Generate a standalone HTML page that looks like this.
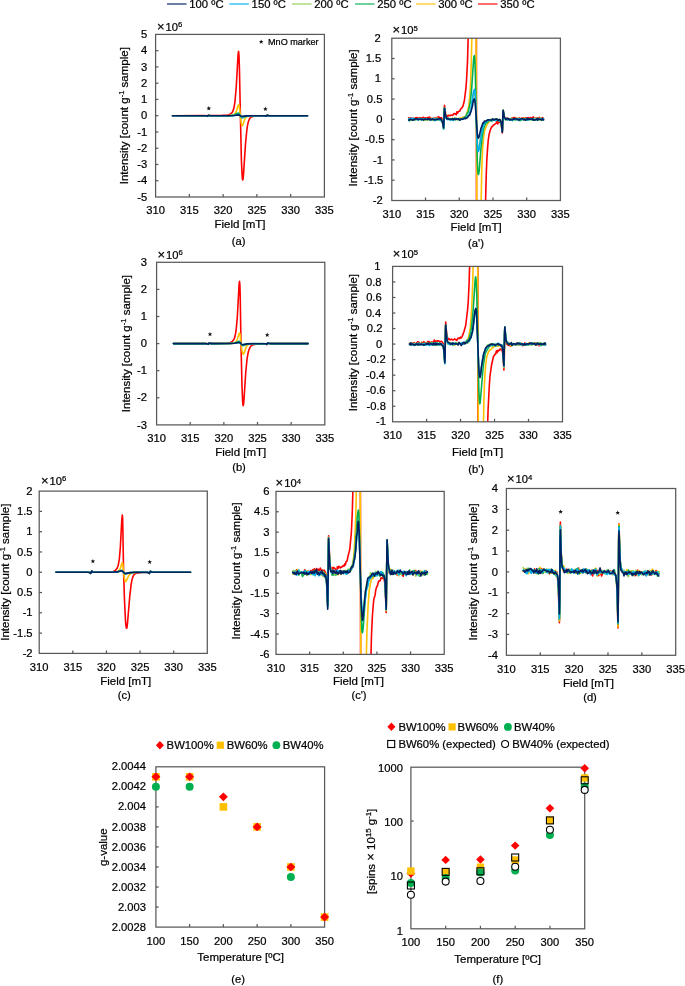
<!DOCTYPE html>
<html><head><meta charset="utf-8"><style>
html,body{margin:0;padding:0;background:#fff;}
svg{display:block;font-family:"Liberation Sans", sans-serif;will-change:transform;}
text{stroke:#000;stroke-width:0.22px;}
</style></head><body>
<svg width="685" height="986" viewBox="0 0 685 986" fill="#000">
<line x1="167" y1="4" x2="186.5" y2="4" stroke="#002060" stroke-width="1.6" stroke-opacity="0.72"/>
<text x="189.30" y="8.10" font-size="11.3" text-anchor="start" >100 ºC</text>
<line x1="229.3" y1="4" x2="248.8" y2="4" stroke="#00B0F0" stroke-width="1.6" stroke-opacity="0.72"/>
<text x="251.60" y="8.10" font-size="11.3" text-anchor="start" >150 ºC</text>
<line x1="292" y1="4" x2="311.5" y2="4" stroke="#92D050" stroke-width="1.6" stroke-opacity="0.72"/>
<text x="314.30" y="8.10" font-size="11.3" text-anchor="start" >200 ºC</text>
<line x1="355" y1="4" x2="374.5" y2="4" stroke="#00B050" stroke-width="1.6" stroke-opacity="0.72"/>
<text x="377.30" y="8.10" font-size="11.3" text-anchor="start" >250 ºC</text>
<line x1="416" y1="4" x2="435.5" y2="4" stroke="#FFC000" stroke-width="1.6" stroke-opacity="0.72"/>
<text x="438.30" y="8.10" font-size="11.3" text-anchor="start" >300 ºC</text>
<line x1="478" y1="4" x2="497.5" y2="4" stroke="#FF0000" stroke-width="1.6" stroke-opacity="0.72"/>
<text x="500.30" y="8.10" font-size="11.3" text-anchor="start" >350 ºC</text>
<clipPath id="ca"><rect x="155.6" y="34.4" width="168.79999999999998" height="162.6"/></clipPath>
<g clip-path="url(#ca)" fill="none" stroke-linejoin="round" stroke-linecap="round">
<polyline points="172.5,115.7 204.7,115.6 206.3,115.7 207.5,116.0 208.4,115.2 209.6,115.5 211.6,115.6 222.0,115.4 226.7,115.2 229.5,114.6 231.3,113.4 232.6,111.7 233.6,109.1 234.4,105.3 235.1,100.3 236.3,86.3 238.0,55.8 238.3,52.3 238.6,51.4 239.0,55.6 239.4,67.1 240.4,116.3 241.4,160.3 242.1,175.0 242.4,178.8 242.7,180.0 243.1,178.7 243.5,174.4 245.5,143.9 246.8,130.5 247.5,125.6 248.3,121.8 249.3,119.3 250.4,117.6 251.9,116.7 253.9,116.2 263.6,115.8 265.1,115.9 266.2,116.2 267.1,115.4 269.8,115.7 307.5,115.7" stroke="#FF0000" stroke-width="1.6"/>
<polyline points="172.5,115.7 204.5,115.7 206.3,115.8 207.5,116.1 208.4,115.3 209.8,115.6 212.5,115.7 227.1,115.6 231.8,115.3 233.9,114.6 235.4,113.2 236.5,110.8 238.1,105.6 238.6,104.8 239.1,105.5 239.5,107.8 241.2,122.9 241.7,124.9 242.2,125.7 242.5,125.5 242.8,124.9 244.5,120.0 245.5,118.0 246.8,116.7 248.8,116.1 253.6,115.8 262.0,115.7 264.8,115.8 266.2,116.2 267.1,115.3 268.4,115.6 270.3,115.7 307.5,115.7" stroke="#FFC000" stroke-width="1.6"/>
<polyline points="172.5,115.7 204.5,115.7 206.3,115.8 207.5,116.1 208.4,115.3 209.5,115.6 211.2,115.7 229.5,115.6 232.2,115.4 234.1,115.0 238.2,113.1 238.7,113.3 239.2,113.8 241.2,117.3 241.7,117.8 242.2,117.9 242.9,117.8 245.0,116.8 246.5,116.3 251.2,115.8 263.7,115.7 265.1,115.8 266.2,116.2 267.1,115.3 268.4,115.6 270.3,115.7 307.5,115.7" stroke="#00B050" stroke-width="1.6"/>
<polyline points="172.5,115.7 204.4,115.7 206.3,115.8 207.5,116.1 208.4,115.3 209.5,115.6 211.1,115.7 230.3,115.6 234.2,115.4 238.2,114.6 239.3,114.9 241.3,116.7 242.3,116.9 246.2,116.1 249.9,115.8 263.7,115.7 265.1,115.8 266.2,116.2 267.1,115.3 268.4,115.6 270.3,115.7 307.5,115.7" stroke="#92D050" stroke-width="1.6"/>
<polyline points="172.5,115.7 204.4,115.7 206.3,115.8 207.5,116.1 208.4,115.3 209.5,115.6 211.2,115.7 230.4,115.6 234.3,115.4 238.2,114.5 239.3,114.9 241.3,116.7 242.3,117.0 246.2,116.1 249.8,115.8 263.7,115.7 265.1,115.8 266.2,116.2 267.1,115.3 268.4,115.6 270.3,115.7 307.5,115.7" stroke="#00B0F0" stroke-width="1.6"/>
<polyline points="172.5,115.7 204.4,115.7 206.3,115.8 207.5,116.1 208.4,115.3 209.5,115.6 211.0,115.7 229.6,115.7 234.1,115.5 238.2,114.9 239.2,115.1 241.2,116.2 242.2,116.4 246.5,115.9 251.3,115.7 263.9,115.7 265.1,115.8 266.2,116.2 267.1,115.3 268.4,115.6 270.3,115.7 307.5,115.7" stroke="#002060" stroke-width="1.6"/>
</g>
<rect x="155.6" y="34.4" width="168.79999999999998" height="162.6" fill="none" stroke="#595959" stroke-width="1.25"/>
<line x1="155.6" y1="180.74" x2="158.4" y2="180.74" stroke="#595959" stroke-width="1.25"/>
<line x1="155.6" y1="164.48" x2="158.4" y2="164.48" stroke="#595959" stroke-width="1.25"/>
<line x1="155.6" y1="148.22" x2="158.4" y2="148.22" stroke="#595959" stroke-width="1.25"/>
<line x1="155.6" y1="131.96" x2="158.4" y2="131.96" stroke="#595959" stroke-width="1.25"/>
<line x1="155.6" y1="115.70" x2="158.4" y2="115.70" stroke="#595959" stroke-width="1.25"/>
<line x1="155.6" y1="99.44" x2="158.4" y2="99.44" stroke="#595959" stroke-width="1.25"/>
<line x1="155.6" y1="83.18" x2="158.4" y2="83.18" stroke="#595959" stroke-width="1.25"/>
<line x1="155.6" y1="66.92" x2="158.4" y2="66.92" stroke="#595959" stroke-width="1.25"/>
<line x1="155.6" y1="50.66" x2="158.4" y2="50.66" stroke="#595959" stroke-width="1.25"/>
<line x1="189.36" y1="197.0" x2="189.36" y2="194.0" stroke="#595959" stroke-width="1.25"/>
<line x1="223.12" y1="197.0" x2="223.12" y2="194.0" stroke="#595959" stroke-width="1.25"/>
<line x1="256.88" y1="197.0" x2="256.88" y2="194.0" stroke="#595959" stroke-width="1.25"/>
<line x1="290.64" y1="197.0" x2="290.64" y2="194.0" stroke="#595959" stroke-width="1.25"/>
<text x="147.30" y="200.60" font-size="11.2" text-anchor="end" >-5</text>
<text x="147.30" y="184.34" font-size="11.2" text-anchor="end" >-4</text>
<text x="147.30" y="168.08" font-size="11.2" text-anchor="end" >-3</text>
<text x="147.30" y="151.82" font-size="11.2" text-anchor="end" >-2</text>
<text x="147.30" y="135.56" font-size="11.2" text-anchor="end" >-1</text>
<text x="147.30" y="119.30" font-size="11.2" text-anchor="end" >0</text>
<text x="147.30" y="103.04" font-size="11.2" text-anchor="end" >1</text>
<text x="147.30" y="86.78" font-size="11.2" text-anchor="end" >2</text>
<text x="147.30" y="70.52" font-size="11.2" text-anchor="end" >3</text>
<text x="147.30" y="54.26" font-size="11.2" text-anchor="end" >4</text>
<text x="147.30" y="38.00" font-size="11.2" text-anchor="end" >5</text>
<text x="155.60" y="214.20" font-size="11.2" text-anchor="middle" >310</text>
<text x="189.36" y="214.20" font-size="11.2" text-anchor="middle" >315</text>
<text x="223.12" y="214.20" font-size="11.2" text-anchor="middle" >320</text>
<text x="256.88" y="214.20" font-size="11.2" text-anchor="middle" >325</text>
<text x="290.64" y="214.20" font-size="11.2" text-anchor="middle" >330</text>
<text x="324.40" y="214.20" font-size="11.2" text-anchor="middle" >335</text>
<text x="156.89999999999998" y="30.7" font-size="11.2"><tspan font-size="13">×</tspan><tspan dx="1.0">10</tspan><tspan font-size="7.7" dy="-3.3">6</tspan></text>
<text transform="translate(127.8,115.7) rotate(-90)" font-size="11.5" text-anchor="middle">Intensity [count g<tspan font-size="7.6" dy="-4">-1</tspan><tspan dy="4"> sample]</tspan></text>
<text x="240.00" y="228.40" font-size="11.5" text-anchor="middle" >Field [mT]</text>
<text x="238.60" y="244.90" font-size="11.2" text-anchor="middle" >(a)</text>
<polygon points="208.80,106.00 209.42,107.55 211.08,107.66 209.80,108.72 210.21,110.34 208.80,109.45 207.39,110.34 207.80,108.72 206.52,107.66 208.18,107.55" fill="#111"/>
<polygon points="265.40,106.60 266.02,108.15 267.68,108.26 266.40,109.32 266.81,110.94 265.40,110.05 263.99,110.94 264.40,109.32 263.12,108.26 264.78,108.15" fill="#111"/>
<clipPath id="ca2"><rect x="391.8" y="38.2" width="168.59999999999997" height="162.3"/></clipPath>
<g clip-path="url(#ca2)" fill="none" stroke-linejoin="round" stroke-linecap="round">
<polyline points="408.7,117.9 409.5,118.6 410.2,118.1 411.0,117.9 411.7,118.8 412.4,118.2 413.2,118.3 413.9,118.7 414.7,118.5 415.4,117.8 416.2,117.9 416.9,117.6 417.6,118.9 418.4,117.8 419.1,118.1 420.6,117.7 421.3,117.9 422.1,118.9 422.8,117.3 423.6,117.6 424.3,118.3 425.8,117.7 426.5,118.2 427.3,118.2 428.0,117.4 428.8,118.0 429.5,117.0 430.2,118.0 431.0,118.3 433.2,118.5 434.0,118.2 434.7,118.4 435.4,118.0 436.2,118.2 436.9,117.6 437.7,117.4 438.4,116.7 439.1,117.8 439.9,117.6 440.6,118.3 441.4,117.7 441.8,118.3 442.6,120.5 443.6,125.9 443.8,123.3 444.3,107.8 444.5,105.3 445.5,113.5 445.9,114.7 446.6,115.5 447.3,117.3 448.0,115.2 448.8,115.6 449.5,115.4 450.3,115.6 451.0,115.1 452.5,115.5 454.0,113.6 455.5,113.9 456.2,114.8 456.9,111.7 457.7,113.1 458.4,111.5 459.9,110.9 460.7,108.9 461.6,108.3 462.9,106.3 464.4,100.5 466.0,87.6 466.7,77.3 467.5,61.5 468.7,18.2 476.4,18.2 476.5,220.5 485.1,220.5 486.2,176.4 486.8,160.4 487.6,147.9 488.2,140.6 489.0,134.8 490.2,130.2 491.8,126.6 492.6,126.4 493.3,125.0 494.0,124.9 496.3,123.1 497.0,121.4 497.8,123.9 498.5,121.8 500.0,122.4 500.7,122.2 501.3,125.1 502.3,132.9 502.9,114.8 503.2,111.7 504.4,118.3 504.7,118.4 505.2,118.2 505.9,118.5 508.1,118.3 508.9,119.4 510.4,119.2 511.1,119.6 511.8,118.1 512.6,118.1 513.3,117.7 514.1,119.3 514.8,117.5 515.6,118.4 516.3,118.0 517.8,119.4 519.3,117.9 520.0,118.8 520.7,118.8 521.5,118.2 522.2,118.2 523.0,117.9 523.7,118.3 525.2,118.1 525.9,117.7 526.7,118.5 527.4,118.8 528.2,117.7 529.6,118.9 530.4,117.5 531.1,117.8 531.9,118.5 533.3,116.9 534.1,117.9 534.8,118.0 535.6,118.6 537.1,118.1 538.5,118.0 539.3,117.4 540.8,118.8 541.5,119.0 542.2,117.6 543.0,118.4 543.5,118.1" stroke="#FF0000" stroke-width="1.6"/>
<polyline points="408.7,118.8 409.5,119.7 410.2,119.0 411.0,118.6 411.7,120.1 412.4,118.9 413.2,119.4 413.9,118.4 414.7,119.1 415.4,119.3 416.2,119.4 416.9,119.2 417.6,119.5 418.4,118.5 419.9,119.7 421.3,118.7 422.1,119.1 425.0,120.0 425.8,119.2 427.3,118.7 428.0,120.0 428.8,118.6 431.0,118.9 431.7,119.3 432.5,120.1 433.2,119.4 434.7,119.3 435.4,120.2 436.2,119.2 436.9,119.6 437.7,118.8 438.4,119.7 439.1,119.4 439.9,119.7 441.1,119.7 441.7,120.3 442.7,122.4 443.6,129.2 443.8,126.6 444.3,111.0 444.5,108.1 445.7,116.2 446.3,118.0 447.3,119.2 448.0,118.8 448.8,118.2 449.5,119.1 450.3,118.6 451.0,118.9 452.5,118.6 453.2,119.3 454.0,119.3 455.5,118.0 456.2,118.1 456.9,119.3 457.7,119.4 459.2,118.6 459.9,117.9 460.7,119.3 461.4,117.7 462.2,117.9 462.9,117.1 463.6,117.4 464.4,116.8 465.1,117.1 465.7,116.3 467.1,112.9 468.5,107.2 469.3,101.4 470.0,93.0 470.7,81.1 471.2,65.5 472.3,18.2 476.0,18.2 476.9,220.5 480.7,220.5 481.7,172.9 482.2,157.6 482.8,146.1 483.5,137.9 484.4,131.8 485.3,128.7 486.6,125.9 487.4,123.0 488.1,123.3 488.8,122.6 489.6,121.0 490.3,120.1 491.1,121.0 491.8,119.1 492.6,119.7 493.3,119.3 495.5,119.4 497.0,118.8 497.8,119.4 499.2,119.7 500.0,120.7 500.7,120.8 500.9,121.5 502.3,130.7 502.9,113.4 503.2,110.4 504.4,116.9 504.8,117.9 505.9,118.8 506.6,120.0 507.4,118.8 508.9,119.3 509.6,119.1 510.4,119.8 511.1,119.4 511.8,119.6 513.3,118.8 514.8,119.7 515.6,118.1 516.3,118.8 517.8,118.8 518.5,119.5 519.3,119.0 520.0,119.1 520.7,119.7 521.5,119.2 522.2,119.7 524.4,118.0 525.2,120.0 526.0,119.8 526.7,120.1 527.4,119.5 528.2,119.4 528.9,119.9 530.4,119.2 531.1,120.0 531.9,119.6 533.3,120.2 534.1,118.7 534.9,119.4 535.6,120.5 536.3,119.8 537.8,119.0 539.3,118.6 540.0,119.8 540.8,119.7 541.5,119.0 543.0,120.1 543.5,120.1" stroke="#FFC000" stroke-width="1.6"/>
<polyline points="408.7,119.2 409.5,121.0 410.2,119.5 411.0,120.0 411.7,119.3 412.4,119.2 413.2,118.6 413.9,119.3 414.7,118.6 415.4,119.8 416.2,118.6 417.6,119.3 418.4,119.1 419.1,119.3 419.9,119.2 420.6,118.9 421.3,119.4 422.1,119.1 422.8,120.0 424.3,119.5 425.1,119.6 425.8,119.1 426.5,119.7 427.3,119.7 428.0,119.1 428.8,119.0 429.5,119.7 430.2,120.0 431.0,119.3 431.7,119.3 432.5,118.5 433.2,119.0 434.0,120.5 434.7,119.4 436.2,119.9 436.9,119.5 438.4,119.8 439.1,119.5 439.9,120.3 440.6,118.8 441.4,121.2 442.1,120.7 442.2,121.1 443.6,128.5 443.8,126.1 444.3,110.9 444.5,108.2 445.5,115.5 446.0,117.4 446.6,118.6 447.3,118.6 448.0,119.0 448.8,118.6 449.5,119.4 451.0,118.8 451.7,119.5 452.5,119.5 454.0,119.0 454.7,118.2 455.5,119.1 456.2,118.7 456.9,118.8 457.7,119.6 458.4,118.9 459.2,119.6 459.9,119.5 460.7,119.1 462.1,118.7 462.9,117.8 463.6,117.8 464.4,117.2 465.8,116.5 467.3,113.0 468.1,112.4 470.3,102.3 471.8,87.0 473.5,60.8 473.9,57.0 474.3,55.6 474.6,56.7 474.8,60.0 475.3,73.2 477.3,160.5 477.7,170.4 478.0,173.4 478.3,174.5 478.7,173.8 479.2,170.8 480.7,151.2 482.2,136.5 483.6,128.8 484.5,126.2 485.9,123.2 486.6,122.8 487.4,122.7 488.9,120.2 490.3,119.6 491.8,121.1 493.3,119.7 494.8,120.1 495.5,119.7 496.3,120.1 497.0,119.1 498.5,120.9 499.2,120.2 500.5,121.0 500.9,121.8 501.3,123.6 502.3,131.5 502.5,128.3 502.9,113.1 503.2,110.1 504.4,117.6 504.9,118.5 505.9,119.7 507.4,119.3 508.9,119.4 509.6,119.0 510.4,119.6 511.1,118.5 511.8,119.0 512.6,120.7 513.3,119.5 514.1,119.2 514.8,119.1 515.5,119.9 516.3,118.8 517.0,119.7 517.8,118.5 518.5,119.4 519.3,119.0 520.0,120.8 520.7,120.1 521.5,120.0 522.2,119.1 523.0,118.8 523.7,118.7 524.4,118.7 525.2,120.0 526.0,119.2 526.7,119.2 527.4,120.1 529.6,118.9 531.1,119.4 531.9,119.2 532.6,120.1 533.3,120.2 534.1,119.7 534.9,119.7 535.6,119.2 536.3,119.1 537.1,119.6 537.8,118.1 538.5,119.6 540.0,119.7 540.8,118.9 542.3,120.2 543.5,119.5" stroke="#00B050" stroke-width="1.6"/>
<polyline points="408.7,119.1 409.5,118.9 411.0,119.6 411.7,119.5 412.4,119.9 413.2,119.8 413.9,118.7 414.7,120.2 415.4,119.6 416.2,119.8 416.9,118.8 417.6,118.8 418.4,119.1 419.1,118.9 419.9,119.4 421.3,119.9 422.1,119.3 422.8,119.4 423.6,120.4 424.3,118.8 425.1,118.9 425.8,120.2 426.5,118.7 427.3,119.8 428.0,119.4 428.8,119.5 429.5,119.3 431.0,119.5 431.7,119.8 432.5,119.0 433.2,119.1 434.0,118.6 434.7,118.8 435.4,120.0 436.2,119.4 436.9,117.8 437.7,119.4 438.4,119.1 439.1,119.4 439.9,119.1 441.4,120.4 442.1,119.9 443.6,128.5 443.8,125.9 444.5,107.5 445.8,116.5 447.3,119.2 448.0,118.5 448.8,119.7 450.3,119.1 451.0,119.4 451.7,119.3 452.5,118.4 453.2,119.4 454.0,119.1 454.7,119.9 456.2,119.2 457.7,119.7 458.4,119.3 459.2,119.7 459.9,119.2 460.7,119.2 461.4,118.6 462.2,119.0 462.9,118.0 463.6,118.5 465.1,118.5 466.6,117.8 467.3,116.7 468.1,116.9 468.8,115.0 469.6,113.8 470.7,110.1 472.3,101.9 473.6,92.9 474.1,91.1 474.4,90.7 474.9,92.8 475.4,99.9 477.4,143.0 477.9,148.0 478.1,149.2 478.4,149.7 478.8,149.4 479.2,148.0 480.7,136.5 482.2,128.2 483.7,125.4 484.4,122.7 485.1,122.7 485.9,120.8 487.4,121.4 488.1,120.9 488.9,120.1 491.1,120.2 491.8,120.0 492.6,119.4 494.8,120.1 495.5,120.6 496.3,119.7 497.0,119.7 498.5,120.1 499.2,119.3 500.5,120.8 501.1,122.3 502.3,131.2 502.9,113.3 503.2,110.3 504.1,115.6 505.2,119.5 506.6,118.9 507.4,119.0 508.1,118.6 508.9,119.3 509.6,119.0 510.4,119.7 511.1,119.9 511.8,118.7 512.6,119.3 513.3,119.0 514.1,119.5 514.8,119.6 515.5,120.1 516.3,118.5 517.0,119.3 517.8,119.4 518.5,118.4 519.3,119.2 520.0,118.5 520.7,118.5 521.5,119.5 523.0,119.2 523.7,120.1 524.5,118.6 525.2,119.6 527.4,119.3 528.2,119.0 528.9,119.5 530.4,119.0 531.9,119.3 533.3,118.8 534.1,119.5 534.9,118.2 536.3,119.9 537.1,118.9 537.8,119.3 538.5,118.3 539.3,119.5 540.0,119.8 540.8,117.9 541.5,119.0 542.3,118.7 543.0,120.1 543.5,119.7" stroke="#92D050" stroke-width="1.6"/>
<polyline points="408.7,119.2 409.5,119.9 410.2,118.2 411.0,119.3 412.4,118.2 413.9,119.3 414.6,119.6 415.4,119.1 416.9,119.3 418.4,120.2 419.1,118.8 419.9,118.5 420.6,119.0 421.3,120.1 422.1,118.5 422.8,119.2 423.6,119.6 424.3,119.0 425.8,119.4 426.5,118.9 427.3,119.3 428.0,118.7 428.8,118.9 430.2,120.1 432.5,119.3 433.2,119.5 433.9,119.1 434.7,120.6 435.4,118.9 436.2,120.1 436.9,119.0 437.7,118.8 438.4,119.5 439.1,119.4 439.9,119.9 440.6,119.1 441.8,120.6 442.5,122.2 443.6,128.9 443.8,126.4 444.5,108.2 445.6,116.5 446.2,117.9 447.3,119.7 448.0,118.1 448.8,118.6 450.3,120.3 451.0,119.6 451.7,119.3 452.5,119.6 453.3,120.3 455.5,118.5 456.2,119.1 456.9,119.3 458.4,118.5 459.2,119.6 459.9,119.9 460.7,119.3 461.4,119.4 462.2,119.1 462.9,119.2 463.6,119.1 464.4,118.8 465.8,117.4 467.3,117.4 468.1,115.7 468.8,115.4 471.0,109.2 473.3,92.8 473.8,90.7 474.4,89.3 474.9,90.9 475.3,96.7 477.3,143.0 477.7,149.6 478.0,151.0 478.2,151.6 478.7,150.8 479.1,149.1 482.2,129.4 482.9,126.7 483.7,125.5 484.4,123.0 486.6,121.6 487.3,120.1 488.1,119.7 488.8,120.7 489.6,120.1 490.3,120.8 491.8,120.2 492.6,119.0 494.0,119.1 495.5,120.6 496.3,119.0 497.0,120.0 497.7,120.2 498.5,119.8 499.2,120.1 500.0,120.9 500.7,121.2 501.1,122.2 501.5,124.7 502.3,131.6 503.0,114.0 503.2,111.6 504.0,116.4 504.6,118.2 505.0,118.8 505.6,119.1 505.9,119.2 506.7,119.0 507.4,120.0 508.1,119.0 509.6,120.0 510.4,119.9 511.1,120.1 511.8,119.3 512.6,120.0 513.3,118.9 514.8,119.2 515.6,119.8 517.8,119.3 518.5,119.9 519.3,118.8 520.0,119.7 520.7,119.5 521.5,119.5 522.2,119.0 523.7,119.8 524.5,118.9 527.4,120.0 528.9,119.4 529.6,119.7 530.4,119.5 531.1,118.7 531.9,119.7 532.6,118.9 533.3,118.4 534.1,119.9 534.8,120.0 535.6,119.7 536.3,119.0 537.1,119.9 538.5,118.7 539.3,119.3 540.8,118.9 541.5,119.0 542.2,120.0 543.0,118.4 543.5,119.5" stroke="#00B0F0" stroke-width="1.6"/>
<polyline points="408.7,120.1 408.7,120.2 410.2,119.3 411.0,119.4 412.4,120.1 413.2,120.1 413.9,119.3 414.6,119.5 415.4,118.9 416.1,119.0 416.9,118.6 418.4,119.7 419.1,119.2 420.6,119.3 421.3,119.5 422.1,119.1 423.6,120.0 424.3,119.0 427.3,119.5 428.0,118.6 428.8,118.9 429.5,119.6 430.2,118.8 431.0,119.6 431.7,119.7 432.5,118.9 433.9,119.6 434.7,119.5 435.4,119.9 436.2,119.4 436.9,119.4 437.7,119.1 438.4,119.3 439.1,119.1 439.9,118.4 441.4,119.9 442.5,122.1 443.6,127.7 444.5,108.3 445.4,114.6 446.6,118.8 447.3,118.9 448.0,118.5 448.8,119.2 449.5,119.3 450.3,119.0 451.7,119.5 452.5,118.7 453.2,119.7 454.0,118.7 455.5,119.6 456.2,118.6 456.9,119.3 457.7,119.4 458.4,118.8 459.2,119.2 459.9,120.2 460.7,119.1 461.4,119.0 462.9,119.3 463.6,118.6 464.4,118.5 465.1,117.9 465.8,118.7 466.6,117.9 467.3,117.7 468.1,116.3 468.8,115.6 469.6,115.3 471.2,110.9 472.5,105.7 473.3,100.9 473.8,99.5 474.2,98.9 474.5,99.1 474.7,99.9 475.2,103.1 477.2,132.4 477.7,136.8 478.3,138.2 478.6,138.0 479.0,137.0 480.8,129.1 482.9,122.9 483.7,123.1 484.4,121.1 485.1,121.2 486.6,120.7 488.1,119.8 490.3,120.0 491.8,119.9 492.6,118.9 493.3,119.8 494.0,120.0 494.8,119.3 496.3,118.9 497.0,119.2 497.8,120.1 498.5,120.1 499.2,119.5 500.0,119.6 501.0,122.0 501.4,123.5 502.3,132.2 502.5,128.7 502.9,113.0 503.2,110.3 504.3,117.0 504.6,117.7 505.2,118.2 505.9,119.5 506.7,118.6 507.4,118.3 508.1,118.9 508.9,119.1 509.6,119.9 510.4,119.2 511.8,119.9 513.3,119.0 514.1,119.3 514.8,118.6 516.3,119.0 517.0,119.4 517.8,119.1 518.5,119.9 519.3,119.9 520.0,119.2 522.2,118.6 523.7,119.7 524.5,119.1 525.2,120.1 525.9,120.0 526.7,119.4 527.4,118.2 528.2,119.4 528.9,118.8 529.6,119.2 530.4,119.3 531.1,119.0 531.9,119.2 532.6,118.8 533.3,119.8 534.1,120.2 534.8,119.8 535.6,119.8 537.1,118.5 537.8,120.2 538.5,118.9 540.8,119.6 541.5,120.1 542.3,118.7 543.5,119.9" stroke="#002060" stroke-width="1.6"/>
</g>
<rect x="391.8" y="38.2" width="168.59999999999997" height="162.3" fill="none" stroke="#595959" stroke-width="1.25"/>
<line x1="391.8" y1="180.21" x2="394.6" y2="180.21" stroke="#595959" stroke-width="1.25"/>
<line x1="391.8" y1="159.93" x2="394.6" y2="159.93" stroke="#595959" stroke-width="1.25"/>
<line x1="391.8" y1="139.64" x2="394.6" y2="139.64" stroke="#595959" stroke-width="1.25"/>
<line x1="391.8" y1="119.35" x2="394.6" y2="119.35" stroke="#595959" stroke-width="1.25"/>
<line x1="391.8" y1="99.06" x2="394.6" y2="99.06" stroke="#595959" stroke-width="1.25"/>
<line x1="391.8" y1="78.77" x2="394.6" y2="78.77" stroke="#595959" stroke-width="1.25"/>
<line x1="391.8" y1="58.49" x2="394.6" y2="58.49" stroke="#595959" stroke-width="1.25"/>
<line x1="425.52" y1="200.5" x2="425.52" y2="197.5" stroke="#595959" stroke-width="1.25"/>
<line x1="459.24" y1="200.5" x2="459.24" y2="197.5" stroke="#595959" stroke-width="1.25"/>
<line x1="492.96" y1="200.5" x2="492.96" y2="197.5" stroke="#595959" stroke-width="1.25"/>
<line x1="526.68" y1="200.5" x2="526.68" y2="197.5" stroke="#595959" stroke-width="1.25"/>
<text x="382.80" y="204.10" font-size="11.2" text-anchor="end" >-2</text>
<text x="383.30" y="183.81" font-size="11.2" text-anchor="end" >-1.5</text>
<text x="383.00" y="163.53" font-size="11.2" text-anchor="end" >-1</text>
<text x="384.40" y="143.24" font-size="11.2" text-anchor="end" >-0.5</text>
<text x="382.60" y="122.95" font-size="11.2" text-anchor="end" >0</text>
<text x="382.40" y="102.66" font-size="11.2" text-anchor="end" >0.5</text>
<text x="380.90" y="82.37" font-size="11.2" text-anchor="end" >1</text>
<text x="381.20" y="62.09" font-size="11.2" text-anchor="end" >1.5</text>
<text x="380.70" y="41.80" font-size="11.2" text-anchor="end" >2</text>
<text x="391.80" y="217.70" font-size="11.2" text-anchor="middle" >310</text>
<text x="425.52" y="217.70" font-size="11.2" text-anchor="middle" >315</text>
<text x="459.24" y="217.70" font-size="11.2" text-anchor="middle" >320</text>
<text x="492.96" y="217.70" font-size="11.2" text-anchor="middle" >325</text>
<text x="526.68" y="217.70" font-size="11.2" text-anchor="middle" >330</text>
<text x="560.40" y="217.70" font-size="11.2" text-anchor="middle" >335</text>
<text x="392.5" y="34.2" font-size="11.2"><tspan font-size="13">×</tspan><tspan dx="1.0">10</tspan><tspan font-size="7.7" dy="-3.3">5</tspan></text>
<text transform="translate(357,117.9) rotate(-90)" font-size="11.5" text-anchor="middle">Intensity [count g<tspan font-size="7.6" dy="-4">-1</tspan><tspan dy="4"> sample]</tspan></text>
<text x="476.10" y="231.30" font-size="11.5" text-anchor="middle" >Field [mT]</text>
<text x="476.00" y="246.50" font-size="11.2" text-anchor="middle" >(a')</text>
<clipPath id="cb"><rect x="156.6" y="262.3" width="168.20000000000002" height="162.59999999999997"/></clipPath>
<g clip-path="url(#cb)" fill="none" stroke-linejoin="round" stroke-linecap="round">
<polyline points="173.4,343.6 205.3,343.5 207.1,343.6 208.3,344.1 209.2,342.8 210.4,343.3 212.2,343.4 222.7,343.4 227.8,343.1 230.6,342.5 232.5,341.3 233.8,339.6 234.8,337.1 235.6,333.4 236.3,328.4 237.3,317.2 239.0,286.1 239.3,282.4 239.5,281.3 239.9,284.9 240.2,295.6 241.0,344.3 242.0,386.0 242.6,400.6 242.9,404.4 243.1,405.7 243.5,404.6 243.9,401.0 245.8,371.8 247.1,358.7 247.9,353.8 248.8,350.2 249.9,347.6 251.1,345.9 252.1,345.2 253.2,344.7 256.5,344.1 264.7,343.8 265.8,344.0 266.8,344.5 267.7,343.1 268.9,343.5 270.5,343.6 308.0,343.6" stroke="#FF0000" stroke-width="1.6"/>
<polyline points="173.4,343.6 205.3,343.6 207.1,343.8 208.3,344.3 209.2,342.9 210.4,343.5 212.4,343.6 227.9,343.6 232.1,343.3 234.6,342.5 235.6,341.8 236.4,341.0 237.4,339.0 239.0,333.8 239.6,333.0 239.9,333.6 240.2,335.3 241.0,343.7 242.0,350.6 242.7,353.4 243.0,354.0 243.3,354.2 243.7,354.0 244.1,353.2 245.8,348.1 246.8,346.0 248.0,344.7 249.6,344.1 254.9,343.8 263.9,343.7 265.6,343.8 266.8,344.4 267.7,343.0 268.9,343.5 270.8,343.6 308.0,343.6" stroke="#FFC000" stroke-width="1.6"/>
<polyline points="173.4,343.6 205.3,343.6 207.1,343.8 208.3,344.2 209.2,342.9 210.3,343.4 211.9,343.6 230.2,343.5 234.8,343.0 238.9,341.3 239.4,341.4 239.9,341.9 241.9,345.1 242.4,345.5 242.9,345.7 243.7,345.5 246.9,344.2 250.5,343.8 264.3,343.6 265.7,343.8 266.8,344.4 267.7,343.0 269.0,343.5 270.9,343.6 308.0,343.6" stroke="#00B050" stroke-width="1.6"/>
<polyline points="173.4,343.6 205.3,343.6 207.1,343.8 208.3,344.2 209.2,342.9 210.3,343.4 211.8,343.6 230.2,343.5 234.8,343.3 238.9,342.4 239.9,342.7 241.9,344.4 242.9,344.7 247.3,343.9 252.6,343.6 264.5,343.7 265.8,343.8 266.8,344.4 267.7,343.0 269.0,343.5 270.9,343.6 308.0,343.6" stroke="#92D050" stroke-width="1.6"/>
<polyline points="173.4,343.6 205.3,343.6 207.1,343.8 208.3,344.2 209.2,342.9 210.3,343.4 211.9,343.6 230.3,343.5 234.8,343.3 238.9,342.4 239.9,342.7 241.9,344.4 242.9,344.7 247.3,343.9 252.4,343.6 264.5,343.7 265.8,343.8 266.8,344.4 267.7,343.0 269.0,343.5 270.9,343.6 308.0,343.6" stroke="#00B0F0" stroke-width="1.6"/>
<polyline points="173.4,343.6 205.3,343.6 207.1,343.8 208.3,344.2 209.2,343.0 210.3,343.4 211.9,343.6 230.4,343.5 234.9,343.3 238.9,342.3 239.9,342.7 241.9,344.5 242.9,344.8 247.3,343.9 252.1,343.7 264.5,343.7 265.8,343.8 266.8,344.4 267.7,343.0 269.0,343.5 270.9,343.6 308.0,343.6" stroke="#002060" stroke-width="1.6"/>
</g>
<rect x="156.6" y="262.3" width="168.20000000000002" height="162.59999999999997" fill="none" stroke="#595959" stroke-width="1.25"/>
<line x1="156.6" y1="397.80" x2="159.4" y2="397.80" stroke="#595959" stroke-width="1.25"/>
<line x1="156.6" y1="370.70" x2="159.4" y2="370.70" stroke="#595959" stroke-width="1.25"/>
<line x1="156.6" y1="343.60" x2="159.4" y2="343.60" stroke="#595959" stroke-width="1.25"/>
<line x1="156.6" y1="316.50" x2="159.4" y2="316.50" stroke="#595959" stroke-width="1.25"/>
<line x1="156.6" y1="289.40" x2="159.4" y2="289.40" stroke="#595959" stroke-width="1.25"/>
<line x1="190.24" y1="424.9" x2="190.24" y2="421.9" stroke="#595959" stroke-width="1.25"/>
<line x1="223.88" y1="424.9" x2="223.88" y2="421.9" stroke="#595959" stroke-width="1.25"/>
<line x1="257.52" y1="424.9" x2="257.52" y2="421.9" stroke="#595959" stroke-width="1.25"/>
<line x1="291.16" y1="424.9" x2="291.16" y2="421.9" stroke="#595959" stroke-width="1.25"/>
<text x="147.00" y="428.50" font-size="11.2" text-anchor="end" >-3</text>
<text x="147.00" y="401.40" font-size="11.2" text-anchor="end" >-2</text>
<text x="147.00" y="374.30" font-size="11.2" text-anchor="end" >-1</text>
<text x="147.00" y="347.20" font-size="11.2" text-anchor="end" >0</text>
<text x="147.00" y="320.10" font-size="11.2" text-anchor="end" >1</text>
<text x="147.00" y="293.00" font-size="11.2" text-anchor="end" >2</text>
<text x="147.00" y="265.90" font-size="11.2" text-anchor="end" >3</text>
<text x="156.60" y="442.10" font-size="11.2" text-anchor="middle" >310</text>
<text x="190.24" y="442.10" font-size="11.2" text-anchor="middle" >315</text>
<text x="223.88" y="442.10" font-size="11.2" text-anchor="middle" >320</text>
<text x="257.52" y="442.10" font-size="11.2" text-anchor="middle" >325</text>
<text x="291.16" y="442.10" font-size="11.2" text-anchor="middle" >330</text>
<text x="324.80" y="442.10" font-size="11.2" text-anchor="middle" >335</text>
<text x="157.5" y="258.8" font-size="11.2"><tspan font-size="13">×</tspan><tspan dx="1.0">10</tspan><tspan font-size="7.7" dy="-3.3">6</tspan></text>
<text transform="translate(129.6,343.6) rotate(-90)" font-size="11.5" text-anchor="middle">Intensity [count g<tspan font-size="7.6" dy="-4">-1</tspan><tspan dy="4"> sample]</tspan></text>
<text x="240.70" y="455.70" font-size="11.5" text-anchor="middle" >Field [mT]</text>
<text x="239.00" y="471.10" font-size="11.2" text-anchor="middle" >(b)</text>
<polygon points="210.00,331.90 210.62,333.45 212.28,333.56 211.00,334.62 211.41,336.24 210.00,335.35 208.59,336.24 209.00,334.62 207.72,333.56 209.38,333.45" fill="#111"/>
<polygon points="267.20,332.60 267.82,334.15 269.48,334.26 268.20,335.32 268.61,336.94 267.20,336.05 265.79,336.94 266.20,335.32 264.92,334.26 266.58,334.15" fill="#111"/>
<clipPath id="cb2"><rect x="392.6" y="266.4" width="169.89999999999998" height="155.40000000000003"/></clipPath>
<g clip-path="url(#cb2)" fill="none" stroke-linejoin="round" stroke-linecap="round">
<polyline points="409.6,343.7 410.4,343.4 411.1,342.9 411.9,343.8 412.6,343.7 413.4,343.0 414.1,342.7 414.9,343.3 416.4,343.7 417.1,342.3 417.9,341.7 418.6,341.8 419.4,343.1 420.9,344.2 421.6,342.3 422.4,343.4 423.9,341.7 424.6,343.5 425.4,342.8 426.9,343.0 427.6,341.5 429.1,341.5 429.8,342.5 430.6,342.7 431.3,342.0 432.1,342.6 432.8,342.0 433.6,341.7 434.3,340.0 435.1,341.6 435.8,341.1 436.6,341.6 437.3,340.6 438.1,341.0 438.8,340.9 439.5,341.7 440.3,342.0 441.0,341.2 441.7,341.4 443.0,343.3 443.6,345.6 444.8,359.3 445.0,354.4 445.5,327.8 445.7,322.0 446.7,334.4 447.5,337.7 448.2,339.2 448.5,339.5 449.3,338.8 450.0,339.9 450.8,339.8 451.5,339.1 453.0,340.0 453.8,339.8 454.5,338.9 456.0,339.8 456.8,340.4 458.2,338.0 459.7,338.6 460.5,337.1 461.2,337.9 461.3,337.8 462.1,336.6 464.0,331.5 465.7,325.5 467.6,309.6 468.3,300.8 469.1,283.0 470.2,246.4 477.8,246.4 478.0,441.8 487.1,441.8 488.1,409.3 489.3,385.7 490.0,376.0 491.6,364.7 493.4,356.8 494.1,355.8 494.9,354.2 495.6,354.1 496.4,350.9 497.1,352.7 497.9,350.2 498.6,350.8 499.4,350.1 500.1,348.9 500.8,349.8 501.5,349.6 501.8,349.8 502.2,350.7 502.6,352.2 503.1,356.7 503.9,369.9 504.2,363.9 504.6,335.2 504.9,329.5 505.7,339.0 506.1,342.4 506.8,344.2 507.6,344.5 508.3,345.5 509.1,344.8 509.8,345.6 510.6,345.9 511.3,344.3 512.8,344.6 513.6,343.8 514.3,344.3 515.1,344.3 515.8,345.1 516.6,343.1 518.1,344.8 519.5,344.6 520.3,344.0 521.0,344.0 521.8,343.4 522.5,345.8 523.3,344.5 524.0,344.3 524.8,342.8 525.5,344.3 526.3,344.7 527.0,343.7 527.8,343.7 528.5,344.2 529.3,342.8 530.0,342.9 530.8,343.8 532.2,343.5 533.0,344.1 533.7,343.8 534.5,344.1 535.2,344.0 536.0,343.2 536.7,345.1 537.5,343.8 538.2,343.9 539.0,345.8 539.7,343.8 540.5,344.8 541.2,345.1 542.0,344.0 542.7,344.5 543.5,343.5 544.2,344.5 545.5,344.9" stroke="#FF0000" stroke-width="1.6"/>
<polyline points="409.6,343.3 409.7,343.2 410.4,343.7 411.9,343.7 412.7,344.1 413.4,345.2 414.2,344.3 414.9,344.0 415.7,344.0 416.4,344.8 417.1,344.8 417.9,343.4 418.6,344.0 419.4,344.9 420.1,343.6 420.9,344.5 421.6,344.0 422.4,343.9 423.1,344.1 423.9,343.6 424.6,344.1 425.4,344.1 426.1,343.2 426.9,343.9 427.6,344.2 428.3,343.4 429.1,343.6 429.8,344.2 431.3,342.7 432.1,344.3 432.8,342.8 433.6,344.8 434.3,343.9 435.1,344.6 435.8,343.4 436.6,344.8 437.3,344.1 438.1,344.8 438.8,343.4 439.5,344.3 440.3,343.6 441.1,345.4 441.8,345.4 442.6,345.1 443.4,347.9 444.0,352.0 444.8,362.8 445.0,359.2 445.5,331.7 445.7,325.5 446.9,339.0 447.4,341.2 448.5,343.9 449.3,343.1 450.0,343.6 450.8,344.5 451.5,343.5 452.3,343.1 453.0,344.3 453.8,345.0 454.5,345.1 456.0,344.1 456.8,343.4 457.5,344.5 458.2,342.7 459.7,344.3 460.5,344.3 461.2,343.6 462.7,343.6 463.5,343.1 464.2,343.5 465.0,343.5 465.7,343.4 466.5,343.0 468.4,337.4 469.4,333.1 470.2,327.9 471.1,317.7 471.8,305.7 472.6,286.6 473.7,246.6 473.7,246.4 477.6,246.4 478.4,441.8 483.1,441.8 483.8,405.5 484.5,382.4 485.5,366.5 486.7,357.2 488.2,352.5 489.6,350.1 490.4,349.9 491.1,349.3 491.9,347.8 493.4,347.5 494.1,346.2 494.9,345.6 495.6,346.0 496.4,345.5 497.9,346.4 498.6,345.7 500.1,345.5 500.8,346.2 502.1,346.9 502.6,348.8 503.1,353.2 503.9,367.7 504.2,361.6 504.6,332.7 504.8,327.7 505.6,338.0 506.3,341.8 506.8,342.6 507.6,342.8 508.3,343.5 509.1,343.2 509.8,344.9 510.6,344.7 511.3,346.2 512.1,344.2 512.8,344.3 513.6,343.6 514.3,343.8 515.1,344.3 515.8,344.3 516.6,344.8 517.3,344.0 518.1,344.3 518.8,343.9 519.5,343.9 520.3,344.1 521.0,342.9 521.8,344.3 522.5,343.9 523.3,344.0 524.0,345.2 524.8,344.4 525.5,344.4 526.3,344.8 527.0,344.0 527.8,344.3 528.5,344.3 529.3,342.7 530.0,344.6 530.7,343.2 531.5,344.9 532.3,344.2 533.0,343.0 533.8,343.9 535.2,343.8 536.0,343.1 536.8,343.9 537.5,343.8 538.3,345.0 539.0,344.8 539.7,342.6 540.5,344.6 541.2,344.5 542.0,343.5 542.7,343.5 543.5,344.3 544.2,343.2 545.0,343.2 545.5,344.5" stroke="#FFC000" stroke-width="1.6"/>
<polyline points="409.6,344.6 410.4,345.0 411.2,343.5 411.9,344.0 413.4,344.6 414.9,343.9 415.6,344.6 416.4,344.0 417.1,344.7 417.9,344.9 419.4,343.2 420.1,344.7 420.9,343.9 422.4,344.3 424.6,343.3 425.4,344.5 426.1,344.0 426.9,344.4 427.6,344.4 428.3,343.8 429.1,344.5 429.8,344.7 431.3,342.6 432.8,345.2 434.3,344.0 435.1,345.1 435.8,343.0 436.6,344.9 437.3,342.8 438.1,344.1 438.8,344.6 439.6,342.8 440.3,343.9 441.1,344.2 441.8,345.3 442.6,345.3 443.3,347.1 444.0,351.4 444.8,363.0 445.7,324.6 446.7,338.0 447.2,341.0 447.8,342.7 450.0,343.2 450.8,344.4 451.5,343.5 452.3,343.9 453.0,343.2 453.8,344.6 454.5,343.5 455.3,342.8 456.8,343.5 457.5,343.3 458.2,343.7 459.0,343.6 459.7,344.0 461.2,343.7 462.0,344.3 462.7,343.3 463.5,343.7 465.0,343.2 465.7,342.6 466.5,340.4 467.2,341.9 468.0,340.0 468.7,339.5 470.9,331.4 471.5,327.5 473.0,312.5 475.0,281.9 475.4,277.7 475.6,276.9 475.9,278.1 476.2,282.0 476.8,295.1 478.8,388.5 479.3,399.6 479.6,402.7 479.8,403.8 480.2,402.8 480.5,399.3 483.0,368.8 483.7,363.0 485.2,353.7 486.5,350.9 488.9,347.1 489.6,345.4 490.4,345.7 491.1,345.6 491.9,344.8 492.6,345.9 493.4,344.7 494.1,344.5 494.9,345.0 495.6,346.3 496.4,344.8 497.1,345.4 497.9,344.5 498.6,344.3 500.1,345.0 500.8,345.1 501.6,344.8 502.5,348.4 502.9,350.9 503.9,365.7 504.6,331.5 504.9,326.7 506.1,340.5 507.6,343.8 509.1,343.6 509.8,344.0 510.6,343.4 511.3,344.7 512.1,344.5 513.6,343.5 514.3,344.9 515.1,343.9 515.8,344.6 516.6,343.6 517.3,344.4 518.1,344.6 518.8,344.7 519.5,344.1 521.0,344.7 522.5,344.0 523.3,344.4 525.5,344.7 527.0,343.6 527.8,345.1 528.5,344.6 530.0,344.4 530.7,344.0 531.5,344.6 532.2,343.9 533.0,343.9 533.8,343.4 534.5,343.7 535.3,343.6 536.8,344.5 537.5,343.8 538.2,342.8 539.0,344.2 539.7,344.1 540.5,342.9 541.2,345.7 542.0,344.0 543.5,344.7 544.2,343.3 545.0,343.6 545.5,344.4" stroke="#00B050" stroke-width="1.6"/>
<polyline points="409.6,344.4 410.4,344.3 411.1,344.6 411.9,343.6 412.7,343.9 413.4,344.9 414.9,343.3 415.6,344.3 416.4,343.5 417.1,344.2 417.9,344.0 418.6,344.1 419.4,343.7 420.1,343.7 420.9,344.4 421.6,343.1 423.1,344.8 423.9,343.6 424.6,345.0 425.4,344.5 426.9,343.9 427.6,342.9 429.1,344.7 429.8,344.8 430.6,343.4 431.3,344.1 432.8,344.7 433.6,343.5 434.3,344.7 435.8,344.9 437.3,344.1 438.1,344.9 438.8,344.2 439.6,345.1 440.3,344.2 441.1,343.7 441.8,345.1 442.8,345.3 443.3,346.1 443.9,350.9 444.8,363.0 445.0,358.0 445.5,331.2 445.7,325.4 446.6,337.9 447.8,344.1 448.5,342.2 449.3,342.3 450.0,343.1 450.8,343.5 451.5,342.8 453.0,345.7 453.8,344.0 456.0,344.2 456.8,343.5 457.5,344.5 458.2,343.8 459.0,344.2 460.5,344.1 461.2,343.4 462.0,343.1 462.7,343.8 463.5,344.2 465.0,342.4 466.5,342.4 468.0,343.1 469.5,341.2 472.1,332.8 473.9,321.6 474.7,314.0 475.2,311.3 475.8,310.2 476.2,311.7 476.7,318.9 478.8,367.6 479.3,373.7 479.6,375.2 479.9,375.8 480.2,375.1 480.7,372.9 482.9,356.5 484.1,352.5 487.4,345.2 488.2,344.6 488.9,345.4 489.6,345.1 490.4,343.7 491.1,345.3 491.9,344.2 492.6,345.4 493.4,344.2 494.1,344.9 494.9,345.3 495.6,343.9 497.1,345.4 498.6,343.9 500.1,344.8 501.0,344.7 501.6,345.0 502.5,348.3 502.9,351.0 503.9,366.8 504.2,361.0 504.6,331.4 504.9,326.8 505.8,337.4 506.5,341.2 506.9,342.1 507.6,342.1 508.3,343.3 509.1,343.0 509.8,343.4 510.6,344.4 511.3,343.6 512.1,344.3 512.8,343.5 513.6,344.7 514.3,344.5 515.1,343.5 515.8,344.2 516.6,344.1 517.3,343.7 518.1,343.7 518.8,345.1 519.5,342.6 520.3,344.0 521.0,344.2 521.8,343.8 522.5,345.0 523.3,343.7 524.0,344.0 524.8,343.8 525.5,344.9 527.0,344.1 527.8,344.2 528.5,345.1 529.3,344.5 530.0,344.3 530.7,343.8 532.2,345.0 533.0,344.0 533.7,343.5 534.5,344.4 535.2,344.6 536.0,343.5 537.5,343.3 538.2,344.0 539.0,343.6 539.7,344.3 541.2,344.1 542.0,345.0 542.7,344.2 543.5,344.1 544.2,343.1 545.0,344.8 545.5,343.5" stroke="#92D050" stroke-width="1.6"/>
<polyline points="409.6,343.4 410.4,345.0 411.9,343.6 412.6,343.5 413.4,345.4 414.2,344.5 414.9,344.2 415.7,344.3 416.4,344.7 417.1,343.3 417.9,344.7 418.6,343.4 419.4,344.4 420.1,344.9 420.9,344.2 421.6,344.9 422.4,344.0 423.1,344.8 424.6,343.4 426.1,345.1 426.9,343.7 427.6,344.2 428.3,345.1 429.1,344.0 429.8,345.6 430.6,344.4 431.3,344.6 432.1,343.3 432.8,343.3 433.6,345.0 434.3,343.4 435.8,343.8 436.6,343.1 437.3,344.8 438.1,344.6 438.8,344.9 439.5,344.0 440.3,344.9 441.1,343.7 441.8,344.4 442.5,344.3 443.2,346.7 443.8,350.3 444.8,363.6 445.0,359.9 445.5,332.2 445.7,326.0 446.6,336.8 447.1,340.8 447.8,343.3 448.5,343.3 449.3,344.6 450.0,344.3 450.8,344.6 451.5,343.4 452.3,342.9 453.0,344.8 453.8,343.9 455.3,343.6 456.0,344.1 456.8,343.8 458.2,343.8 459.0,344.0 459.7,343.8 460.5,344.4 461.2,343.2 462.0,342.8 462.7,343.3 463.5,344.4 464.2,342.5 465.7,342.8 466.5,342.4 467.2,342.6 468.0,341.2 468.7,340.6 469.4,341.3 470.2,338.2 470.9,338.3 471.5,336.3 472.5,330.8 473.2,327.8 474.7,313.1 475.2,310.4 475.7,309.3 476.0,309.7 476.2,311.2 476.7,316.9 478.7,366.7 479.2,373.6 479.5,375.3 479.7,376.0 480.2,375.7 480.7,374.4 482.2,361.6 483.7,353.5 484.4,352.6 485.2,349.2 485.9,348.9 486.7,347.6 487.4,346.9 488.2,345.5 488.9,345.6 489.6,344.7 490.4,345.0 491.1,344.6 491.9,344.5 492.6,345.5 493.4,344.5 494.1,344.2 494.9,345.5 495.6,344.4 496.4,344.9 497.9,343.4 498.6,343.4 499.4,344.6 500.1,345.0 501.1,344.8 501.6,345.0 502.3,347.3 502.8,350.6 503.9,366.8 504.6,333.2 504.9,327.3 505.7,336.9 506.2,340.3 506.9,342.0 508.3,343.2 509.1,344.2 509.8,344.3 510.6,343.9 511.3,344.2 512.1,343.9 513.6,344.5 514.3,344.0 515.1,343.8 515.8,344.6 516.6,344.2 517.3,344.2 518.1,342.8 518.8,343.7 519.5,343.7 520.3,343.0 521.0,344.6 521.8,343.9 522.5,344.7 523.3,343.7 524.0,344.2 524.8,344.2 526.3,344.7 527.0,343.9 527.8,344.5 529.3,344.4 530.0,343.4 530.7,344.2 531.5,342.8 532.3,344.0 533.8,343.9 535.3,344.1 536.7,343.5 537.5,344.6 538.2,344.8 539.0,344.0 540.5,344.7 541.2,344.7 542.0,343.4 542.7,344.5 544.2,343.9 545.0,345.1 545.5,344.6" stroke="#00B0F0" stroke-width="1.6"/>
<polyline points="409.6,344.3 410.4,343.2 411.2,345.0 411.9,343.6 413.4,344.8 414.2,344.6 414.9,345.3 415.7,344.2 417.1,343.9 417.9,344.9 418.6,344.0 420.1,344.8 420.9,344.0 422.4,344.6 423.1,344.6 423.9,345.3 424.6,344.9 426.1,343.8 426.9,344.1 427.6,344.2 428.3,342.9 429.1,344.4 430.6,343.6 431.3,343.9 432.1,344.8 433.6,343.0 434.3,344.7 435.1,343.1 435.8,344.8 436.6,343.7 437.3,344.5 438.1,343.7 438.8,343.9 439.5,344.4 440.3,343.8 441.0,343.7 442.5,345.9 442.9,345.7 443.3,345.9 443.5,346.8 444.0,351.1 444.8,362.7 445.0,358.9 445.5,331.2 445.7,325.0 446.9,339.1 447.4,341.2 448.2,342.6 448.6,342.8 450.0,343.1 450.8,344.4 451.5,343.5 452.3,344.3 453.0,342.9 453.8,343.7 454.5,343.8 455.3,344.1 456.0,343.7 456.8,343.9 457.5,344.3 458.2,345.0 459.0,342.4 459.7,343.2 460.5,343.5 461.2,345.6 462.0,344.4 462.7,343.7 463.5,342.2 464.2,342.3 465.0,343.8 465.7,342.6 466.5,342.7 466.9,342.5 468.0,341.2 468.8,340.6 471.0,337.0 471.7,333.9 472.5,331.7 474.7,313.0 475.2,310.1 475.8,308.4 476.1,308.9 476.2,310.1 476.8,317.9 478.7,367.8 479.3,375.2 479.6,376.9 479.9,377.5 480.2,377.0 480.6,374.9 481.4,367.5 483.5,355.1 484.0,352.9 485.9,347.6 486.7,347.1 487.4,346.2 488.2,345.9 488.9,345.3 489.6,345.7 490.4,344.5 491.1,344.3 491.9,343.9 492.6,344.6 493.4,344.3 494.9,345.0 495.6,345.1 497.9,343.6 498.6,344.8 499.4,344.3 500.1,344.5 500.9,346.0 501.6,345.4 502.3,347.2 502.7,349.6 503.9,365.7 504.6,332.0 504.8,327.0 505.6,336.8 506.1,340.6 506.5,341.8 507.2,342.8 509.1,344.7 509.8,343.9 510.6,343.8 511.3,342.7 512.1,345.4 512.8,344.1 514.3,343.8 515.8,344.2 516.6,344.1 517.3,343.2 518.1,343.9 518.8,343.2 519.5,343.6 520.3,344.3 522.5,343.7 523.3,345.0 524.0,345.0 524.8,343.8 525.5,344.7 527.0,343.8 528.5,344.3 529.3,343.3 530.0,343.6 530.7,343.0 531.5,343.9 532.3,343.3 533.0,344.0 533.7,343.8 534.5,343.1 535.3,345.0 536.0,344.2 536.8,343.8 537.5,343.0 538.3,344.3 539.0,344.1 540.5,344.1 541.2,343.6 542.0,344.2 542.7,344.5 543.5,343.7 544.2,344.3 545.0,342.9 545.5,343.9" stroke="#002060" stroke-width="1.6"/>
</g>
<rect x="392.6" y="266.4" width="169.89999999999998" height="155.40000000000003" fill="none" stroke="#595959" stroke-width="1.25"/>
<line x1="392.6" y1="406.26" x2="395.40000000000003" y2="406.26" stroke="#595959" stroke-width="1.25"/>
<line x1="392.6" y1="390.72" x2="395.40000000000003" y2="390.72" stroke="#595959" stroke-width="1.25"/>
<line x1="392.6" y1="375.18" x2="395.40000000000003" y2="375.18" stroke="#595959" stroke-width="1.25"/>
<line x1="392.6" y1="359.64" x2="395.40000000000003" y2="359.64" stroke="#595959" stroke-width="1.25"/>
<line x1="392.6" y1="344.10" x2="395.40000000000003" y2="344.10" stroke="#595959" stroke-width="1.25"/>
<line x1="392.6" y1="328.56" x2="395.40000000000003" y2="328.56" stroke="#595959" stroke-width="1.25"/>
<line x1="392.6" y1="313.02" x2="395.40000000000003" y2="313.02" stroke="#595959" stroke-width="1.25"/>
<line x1="392.6" y1="297.48" x2="395.40000000000003" y2="297.48" stroke="#595959" stroke-width="1.25"/>
<line x1="392.6" y1="281.94" x2="395.40000000000003" y2="281.94" stroke="#595959" stroke-width="1.25"/>
<line x1="426.58" y1="421.8" x2="426.58" y2="418.8" stroke="#595959" stroke-width="1.25"/>
<line x1="460.56" y1="421.8" x2="460.56" y2="418.8" stroke="#595959" stroke-width="1.25"/>
<line x1="494.54" y1="421.8" x2="494.54" y2="418.8" stroke="#595959" stroke-width="1.25"/>
<line x1="528.52" y1="421.8" x2="528.52" y2="418.8" stroke="#595959" stroke-width="1.25"/>
<text x="386.00" y="425.40" font-size="11.2" text-anchor="end" >-1</text>
<text x="385.90" y="409.86" font-size="11.2" text-anchor="end" >-0.8</text>
<text x="385.60" y="394.32" font-size="11.2" text-anchor="end" >-0.6</text>
<text x="385.10" y="378.78" font-size="11.2" text-anchor="end" >-0.4</text>
<text x="385.70" y="363.24" font-size="11.2" text-anchor="end" >-0.2</text>
<text x="382.20" y="347.70" font-size="11.2" text-anchor="end" >0</text>
<text x="382.40" y="332.16" font-size="11.2" text-anchor="end" >0.2</text>
<text x="381.20" y="316.62" font-size="11.2" text-anchor="end" >0.4</text>
<text x="381.70" y="301.08" font-size="11.2" text-anchor="end" >0.6</text>
<text x="381.50" y="285.54" font-size="11.2" text-anchor="end" >0.8</text>
<text x="380.50" y="270.00" font-size="11.2" text-anchor="end" >1</text>
<text x="392.60" y="439.00" font-size="11.2" text-anchor="middle" >310</text>
<text x="426.58" y="439.00" font-size="11.2" text-anchor="middle" >315</text>
<text x="460.56" y="439.00" font-size="11.2" text-anchor="middle" >320</text>
<text x="494.54" y="439.00" font-size="11.2" text-anchor="middle" >325</text>
<text x="528.52" y="439.00" font-size="11.2" text-anchor="middle" >330</text>
<text x="562.50" y="439.00" font-size="11.2" text-anchor="middle" >335</text>
<text x="392.7" y="258.4" font-size="11.2"><tspan font-size="13">×</tspan><tspan dx="1.0">10</tspan><tspan font-size="7.7" dy="-3.3">5</tspan></text>
<text transform="translate(357,342.6) rotate(-90)" font-size="11.5" text-anchor="middle">Intensity [count g<tspan font-size="7.6" dy="-4">-1</tspan><tspan dy="4"> sample]</tspan></text>
<text x="477.55" y="456.20" font-size="11.5" text-anchor="middle" >Field [mT]</text>
<text x="476.20" y="472.80" font-size="11.2" text-anchor="middle" >(b')</text>
<clipPath id="cc"><rect x="39.2" y="491.1" width="168.10000000000002" height="162.29999999999995"/></clipPath>
<g clip-path="url(#cc)" fill="none" stroke-linejoin="round" stroke-linecap="round">
<polyline points="56.0,572.2 87.9,572.2 89.7,572.4 90.8,573.2 91.8,571.1 92.9,571.9 94.2,572.1 108.1,572.0 112.9,571.5 114.5,571.0 115.6,570.2 116.9,568.6 117.9,566.3 118.7,563.0 119.4,558.4 120.3,547.7 121.8,519.6 122.3,515.0 122.6,517.7 122.8,525.2 123.6,572.7 124.5,600.1 125.5,621.1 126.0,626.4 126.5,628.3 126.7,628.2 127.0,627.3 127.5,623.2 129.8,595.8 131.1,584.6 131.8,580.6 132.6,577.7 133.4,575.6 134.5,574.2 135.6,573.6 137.0,573.1 141.8,572.5 147.5,572.5 148.4,572.7 149.4,573.4 150.3,571.3 151.5,572.1 153.3,572.3 190.5,572.3" stroke="#FF0000" stroke-width="1.6"/>
<polyline points="56.0,572.3 87.8,572.3 89.7,572.5 90.8,573.3 91.8,571.2 92.9,572.0 94.7,572.2 111.0,572.2 115.7,572.0 118.0,571.3 118.8,570.7 119.5,569.9 120.4,568.0 121.9,563.3 122.3,562.6 122.6,563.1 122.9,564.7 123.6,572.4 124.4,578.1 125.0,580.7 125.3,581.3 125.6,581.6 126.0,581.4 126.3,580.9 128.3,576.5 129.6,574.5 131.3,573.2 133.7,572.6 138.0,572.3 146.8,572.3 148.2,572.5 149.3,573.3 150.3,571.3 151.5,572.0 153.4,572.2 190.5,572.2" stroke="#FFC000" stroke-width="1.6"/>
<polyline points="56.0,572.2 87.8,572.3 89.7,572.5 90.8,573.3 91.8,571.2 92.9,572.0 94.4,572.2 112.9,572.2 117.4,571.7 121.4,570.3 122.0,570.5 122.5,570.9 124.5,573.6 125.5,574.0 129.7,572.7 134.3,572.3 147.0,572.3 148.3,572.6 149.4,573.3 150.3,571.3 151.5,572.0 153.4,572.2 190.5,572.3" stroke="#00B050" stroke-width="1.6"/>
<polyline points="56.0,572.3 87.8,572.3 89.7,572.5 90.8,573.3 91.8,571.2 92.9,572.0 94.3,572.2 111.6,572.2 117.1,571.9 121.4,570.8 122.4,571.1 124.3,573.1 125.5,573.6 130.1,572.5 136.3,572.3 147.2,572.3 148.3,572.6 149.3,573.3 150.3,571.3 151.5,572.0 153.4,572.2 190.5,572.3" stroke="#92D050" stroke-width="1.6"/>
<polyline points="56.0,572.2 87.8,572.3 89.7,572.5 90.8,573.3 91.8,571.2 92.9,572.0 94.3,572.2 111.7,572.2 117.1,571.9 121.4,570.8 122.4,571.1 123.5,572.3 124.5,573.0 125.9,573.5 131.9,572.5 140.3,572.3 147.4,572.4 148.4,572.6 149.3,573.4 150.3,571.3 151.5,572.0 153.4,572.2 190.5,572.3" stroke="#00B0F0" stroke-width="1.6"/>
<polyline points="56.0,572.2 87.8,572.3 89.7,572.5 90.8,573.3 91.8,571.2 92.9,572.0 94.3,572.2 111.9,572.2 117.2,571.9 121.4,570.7 122.5,571.2 124.5,573.3 125.5,573.6 130.1,572.6 135.9,572.3 147.1,572.3 148.3,572.6 149.3,573.3 150.3,571.3 151.5,572.0 153.4,572.2 190.5,572.3" stroke="#002060" stroke-width="1.6"/>
</g>
<rect x="39.2" y="491.1" width="168.10000000000002" height="162.29999999999995" fill="none" stroke="#595959" stroke-width="1.25"/>
<line x1="39.2" y1="633.11" x2="42.0" y2="633.11" stroke="#595959" stroke-width="1.25"/>
<line x1="39.2" y1="612.83" x2="42.0" y2="612.83" stroke="#595959" stroke-width="1.25"/>
<line x1="39.2" y1="592.54" x2="42.0" y2="592.54" stroke="#595959" stroke-width="1.25"/>
<line x1="39.2" y1="572.25" x2="42.0" y2="572.25" stroke="#595959" stroke-width="1.25"/>
<line x1="39.2" y1="551.96" x2="42.0" y2="551.96" stroke="#595959" stroke-width="1.25"/>
<line x1="39.2" y1="531.67" x2="42.0" y2="531.67" stroke="#595959" stroke-width="1.25"/>
<line x1="39.2" y1="511.39" x2="42.0" y2="511.39" stroke="#595959" stroke-width="1.25"/>
<line x1="72.82" y1="653.4" x2="72.82" y2="650.4" stroke="#595959" stroke-width="1.25"/>
<line x1="106.44" y1="653.4" x2="106.44" y2="650.4" stroke="#595959" stroke-width="1.25"/>
<line x1="140.06" y1="653.4" x2="140.06" y2="650.4" stroke="#595959" stroke-width="1.25"/>
<line x1="173.68" y1="653.4" x2="173.68" y2="650.4" stroke="#595959" stroke-width="1.25"/>
<text x="32.60" y="657.00" font-size="11.2" text-anchor="end" >-2</text>
<text x="32.60" y="636.71" font-size="11.2" text-anchor="end" >-1.5</text>
<text x="32.60" y="616.43" font-size="11.2" text-anchor="end" >-1</text>
<text x="32.60" y="596.14" font-size="11.2" text-anchor="end" >0.5</text>
<text x="32.60" y="575.85" font-size="11.2" text-anchor="end" >0</text>
<text x="32.60" y="555.56" font-size="11.2" text-anchor="end" >0.5</text>
<text x="32.60" y="535.27" font-size="11.2" text-anchor="end" >1</text>
<text x="32.60" y="514.99" font-size="11.2" text-anchor="end" >1.5</text>
<text x="32.60" y="494.70" font-size="11.2" text-anchor="end" >2</text>
<text x="39.20" y="670.60" font-size="11.2" text-anchor="middle" >310</text>
<text x="72.82" y="670.60" font-size="11.2" text-anchor="middle" >315</text>
<text x="106.44" y="670.60" font-size="11.2" text-anchor="middle" >320</text>
<text x="140.06" y="670.60" font-size="11.2" text-anchor="middle" >325</text>
<text x="173.68" y="670.60" font-size="11.2" text-anchor="middle" >330</text>
<text x="207.30" y="670.60" font-size="11.2" text-anchor="middle" >335</text>
<text x="41.0" y="484.7" font-size="11.2"><tspan font-size="13">×</tspan><tspan dx="1.0">10</tspan><tspan font-size="7.7" dy="-3.3">6</tspan></text>
<text transform="translate(9.2,572.2) rotate(-90)" font-size="11.5" text-anchor="middle">Intensity [count g<tspan font-size="7.6" dy="-4">-1</tspan><tspan dy="4"> sample]</tspan></text>
<text x="125.75" y="685.20" font-size="11.5" text-anchor="middle" >Field [mT]</text>
<text x="124.30" y="699.00" font-size="11.2" text-anchor="middle" >(c)</text>
<polygon points="92.90,558.90 93.52,560.45 95.18,560.56 93.90,561.62 94.31,563.24 92.90,562.35 91.49,563.24 91.90,561.62 90.62,560.56 92.28,560.45" fill="#111"/>
<polygon points="149.70,559.60 150.32,561.15 151.98,561.26 150.70,562.32 151.11,563.94 149.70,563.05 148.29,563.94 148.70,562.32 147.42,561.26 149.08,561.15" fill="#111"/>
<clipPath id="cc2"><rect x="276" y="491.4" width="168.2" height="163.0"/></clipPath>
<g clip-path="url(#cc2)" fill="none" stroke-linejoin="round" stroke-linecap="round">
<polyline points="292.8,573.0 292.9,572.9 293.6,573.5 294.4,573.0 295.8,573.8 296.6,569.7 297.3,572.5 298.1,570.9 298.8,570.7 299.5,572.5 300.3,573.1 301.0,572.6 301.8,573.0 302.5,572.4 304.0,572.6 304.7,569.7 305.5,573.5 306.2,571.6 306.9,571.6 308.4,571.2 309.2,571.8 309.9,571.8 310.7,570.6 312.1,571.2 312.9,569.7 313.6,571.9 314.3,568.8 315.1,572.4 315.8,569.6 316.6,568.5 317.3,569.8 318.0,570.6 318.8,569.2 319.5,571.1 320.3,568.1 321.8,571.3 322.5,570.2 323.2,571.2 324.0,570.2 324.5,570.5 325.9,573.5 326.3,576.1 326.8,582.6 327.7,602.5 327.9,594.1 328.6,535.7 329.6,557.9 330.1,564.0 330.6,568.0 331.2,568.2 332.1,567.6 332.9,569.3 333.6,567.4 335.1,568.7 335.8,570.8 336.6,571.6 337.3,566.8 338.0,568.5 338.8,566.3 340.2,567.9 341.0,567.0 341.7,567.4 342.5,566.1 343.2,565.5 344.0,566.2 344.7,563.9 345.4,564.8 346.2,561.5 346.9,561.2 347.2,560.1 348.4,554.7 349.4,551.1 349.9,548.1 351.4,532.0 352.3,512.0 353.4,471.4 360.4,471.4 360.6,674.4 370.5,674.4 371.5,634.7 372.4,616.3 373.2,605.5 373.7,600.3 374.3,597.4 375.0,595.7 375.8,589.8 376.5,587.4 377.3,586.0 378.7,581.0 379.5,581.0 380.2,580.7 381.0,578.1 381.7,577.8 382.4,578.5 383.2,577.1 383.8,578.2 384.2,579.7 384.8,583.0 385.2,588.3 386.2,612.6 386.9,551.6 387.1,543.4 387.9,561.4 388.5,568.8 389.1,572.6 389.4,572.9 389.8,572.9 390.6,574.2 391.3,573.5 392.1,574.1 393.5,573.8 394.3,572.8 395.0,572.4 395.8,573.2 396.5,572.1 397.2,575.0 398.0,572.0 398.7,572.5 399.5,573.3 400.2,573.7 401.0,572.9 401.7,574.4 402.4,574.7 403.2,576.4 403.9,573.9 405.4,572.9 406.1,574.0 406.8,572.8 407.6,573.4 408.3,572.3 409.1,572.3 409.8,574.4 411.3,573.0 412.0,573.5 412.8,572.0 413.5,573.9 414.2,573.1 415.0,572.9 415.7,570.6 416.5,574.6 418.7,572.9 419.4,573.0 420.2,571.2 420.9,573.0 421.6,572.1 422.4,572.5 423.2,574.6 423.9,571.9 425.4,572.5 426.1,570.5 426.8,572.9 427.4,573.5" stroke="#FF0000" stroke-width="1.6"/>
<polyline points="292.8,574.0 292.9,574.2 293.6,572.6 294.4,573.3 295.1,573.7 296.6,573.5 297.3,569.9 298.1,572.2 299.5,571.1 300.3,572.2 301.0,571.9 301.8,573.7 302.5,573.5 303.3,575.3 304.0,573.8 304.7,574.0 305.5,572.8 306.2,574.3 306.9,571.7 308.4,573.6 309.2,572.5 309.9,571.8 310.7,574.6 311.4,573.2 312.1,573.3 312.9,573.1 313.6,573.7 314.3,572.5 315.1,574.3 315.8,573.2 316.6,572.7 317.3,571.7 318.1,571.9 318.8,573.6 320.3,573.6 321.0,573.3 321.8,573.2 322.5,575.3 323.2,572.9 324.0,575.6 324.7,573.2 325.4,573.4 326.0,576.6 326.6,582.0 327.7,605.0 327.9,596.2 328.6,537.2 329.9,568.1 330.0,568.5 330.2,568.5 330.6,567.4 331.4,571.8 332.1,570.9 332.8,572.6 333.6,571.7 334.3,574.0 335.8,572.0 336.6,573.2 337.3,573.1 338.0,574.9 339.5,572.5 341.0,574.3 341.7,571.0 342.5,573.0 343.2,572.0 344.0,572.8 344.7,572.4 345.4,570.2 346.2,573.1 346.9,572.0 347.7,572.0 348.4,571.6 349.1,571.7 350.6,567.9 351.4,568.8 352.6,564.3 353.1,561.2 354.1,551.8 354.8,540.9 355.9,512.5 356.7,471.4 360.2,471.4 360.9,674.4 365.9,674.4 366.9,631.9 368.1,605.9 369.1,591.3 370.6,582.5 371.6,578.6 372.1,577.7 372.8,578.5 373.6,577.2 375.0,573.7 375.8,574.3 376.9,574.2 378.0,574.5 378.8,571.8 379.5,574.1 380.2,574.1 381.0,572.8 381.7,574.2 382.4,573.7 383.9,575.6 384.3,575.4 384.6,575.7 385.3,584.7 386.2,610.0 386.9,549.0 387.1,540.9 388.2,563.8 388.7,568.0 389.8,572.1 390.6,569.3 391.3,573.3 392.0,572.4 392.8,570.3 393.5,572.7 394.3,573.8 395.0,571.0 395.8,572.9 396.5,572.7 397.2,573.4 398.7,575.8 399.5,571.0 400.2,573.9 401.0,571.8 401.7,573.4 402.4,574.2 403.2,571.9 405.4,574.5 406.1,574.1 406.9,572.3 408.3,571.3 409.1,573.1 409.8,573.5 410.6,573.6 411.3,571.5 412.0,572.5 412.8,574.8 413.5,573.7 414.3,570.4 415.0,572.8 415.7,571.6 416.5,573.5 417.2,572.8 418.0,573.8 418.7,572.6 419.4,572.6 420.2,571.3 420.9,572.9 421.6,573.8 422.4,571.3 423.2,572.2 423.9,574.1 425.4,571.7 426.1,571.2 426.8,574.0 427.4,574.1" stroke="#FFC000" stroke-width="1.6"/>
<polyline points="292.8,572.9 293.6,570.6 294.4,573.3 295.1,571.1 296.6,574.2 297.3,573.4 298.1,572.2 298.8,575.0 299.5,572.1 300.3,571.8 301.0,571.9 302.5,576.4 304.0,573.1 304.7,574.3 305.5,570.8 306.2,572.3 306.9,573.1 307.7,573.5 308.4,572.5 309.2,572.0 309.9,573.4 310.7,572.2 311.4,572.7 312.9,572.5 313.6,574.8 314.3,570.4 315.1,572.9 315.8,572.4 316.6,573.0 318.0,573.4 318.8,571.9 319.5,572.5 320.3,574.6 321.0,572.1 321.8,573.5 322.5,574.1 323.2,571.6 324.0,573.2 324.7,574.0 325.0,574.6 325.9,577.2 326.4,579.6 326.9,586.7 327.7,606.8 327.9,600.3 328.3,550.6 328.6,539.4 329.4,558.4 329.8,564.8 330.4,569.0 330.7,570.0 331.4,570.6 332.1,575.1 332.9,572.5 333.6,575.1 334.3,572.0 335.1,574.1 335.8,575.3 336.6,571.4 337.3,572.8 338.0,572.7 338.8,572.0 339.5,573.1 340.3,570.5 341.0,572.9 341.7,572.9 342.5,571.4 343.2,571.3 344.0,572.4 344.7,572.1 345.4,571.0 346.2,571.8 346.9,573.9 348.4,569.2 349.1,570.3 349.9,570.6 351.4,566.5 352.1,567.3 353.6,560.5 355.1,549.5 356.5,530.8 357.3,516.8 357.7,513.0 358.4,510.1 358.8,512.8 359.3,526.6 361.4,618.0 361.8,628.7 362.1,631.7 362.4,632.7 362.8,631.0 363.4,624.8 365.4,596.7 366.9,586.9 367.6,583.4 368.4,577.4 369.1,579.7 369.9,576.2 370.6,576.6 371.3,575.2 372.1,576.9 372.8,574.1 373.6,575.3 374.3,574.4 375.8,575.9 376.5,573.2 377.3,573.3 378.0,572.4 378.7,574.9 379.5,573.4 380.2,576.5 381.0,571.8 381.7,574.7 382.4,572.4 383.2,573.1 384.4,576.7 385.1,582.0 386.2,609.8 386.9,549.3 387.1,540.7 388.3,564.9 388.7,568.3 389.8,573.3 390.6,572.2 391.3,572.9 391.7,573.0 392.1,573.0 392.8,572.6 393.6,573.9 394.3,573.0 395.0,573.4 395.8,573.0 397.2,573.1 398.0,572.7 398.7,571.2 399.4,573.9 400.2,574.1 401.0,572.7 401.7,572.5 402.4,573.3 403.9,572.2 405.4,573.5 406.1,571.6 406.9,573.6 407.6,573.3 409.1,574.4 409.8,572.4 410.6,573.4 411.3,573.6 412.0,571.2 412.8,571.1 413.5,572.6 414.3,570.6 415.0,572.1 415.7,572.6 416.5,572.2 417.2,573.8 418.0,572.6 418.7,575.0 419.4,576.2 420.2,572.2 420.9,574.6 421.6,573.9 422.4,574.7 423.1,572.3 423.9,571.6 424.6,575.0 425.4,572.4 426.1,573.7 426.8,574.3 427.4,572.4" stroke="#00B050" stroke-width="1.6"/>
<polyline points="292.8,574.1 293.6,570.8 295.1,573.3 295.9,570.9 296.6,572.8 297.3,572.4 298.1,573.0 298.8,570.0 299.5,573.0 300.3,571.6 301.0,572.8 301.8,572.3 302.5,573.4 303.3,573.7 304.0,573.6 304.7,571.9 305.5,573.3 306.2,573.6 306.9,575.5 307.7,571.0 308.4,573.7 309.9,573.8 310.7,572.6 311.4,573.4 312.1,573.3 312.9,572.5 313.6,573.9 314.3,574.7 315.1,572.5 315.8,573.3 316.6,571.9 317.3,571.7 318.0,573.1 318.8,573.6 319.5,573.4 320.3,572.2 321.0,574.2 322.5,576.0 323.2,571.6 324.7,577.7 325.4,574.1 325.8,576.1 326.8,585.1 327.7,604.6 327.9,598.2 328.3,548.8 328.6,537.5 329.9,565.8 330.2,567.4 330.6,568.2 331.4,572.8 332.1,572.0 332.8,572.5 333.6,572.5 334.3,574.1 335.1,574.7 336.6,571.0 337.3,572.3 338.0,571.8 338.8,572.5 339.5,571.9 340.3,573.7 341.0,572.1 341.7,573.2 342.5,572.1 343.2,573.1 344.0,570.9 344.7,572.5 345.4,572.1 346.2,571.1 346.9,572.0 347.7,569.7 348.4,571.4 349.1,572.2 349.9,571.2 350.6,568.5 351.4,570.6 352.8,563.6 353.6,562.1 354.2,559.4 355.1,551.8 355.8,549.1 356.5,539.1 357.9,525.8 358.2,524.5 358.5,525.1 358.7,527.0 359.2,535.0 361.2,602.5 361.7,613.7 362.0,616.5 362.3,617.4 362.7,616.8 363.0,614.3 363.9,603.6 366.2,585.8 366.9,582.5 367.6,580.6 368.4,580.9 369.1,578.4 369.8,578.3 370.6,572.7 371.3,576.2 372.1,574.5 372.8,574.9 374.3,573.0 375.8,571.6 376.5,572.0 377.3,572.0 378.0,573.2 378.8,573.8 380.2,576.5 381.0,574.5 381.8,574.2 382.4,574.0 383.2,576.7 383.9,575.3 384.6,578.3 385.2,583.9 386.2,610.7 386.4,600.7 386.9,548.2 387.1,539.7 388.2,563.5 388.8,568.1 389.8,572.7 391.3,569.5 392.1,573.5 392.8,573.1 393.6,573.1 394.3,572.5 395.0,573.6 395.8,573.1 396.5,572.1 398.0,571.9 398.7,574.5 400.2,571.7 400.9,571.7 401.7,574.8 402.4,572.6 403.2,573.5 403.9,572.9 404.6,571.4 405.4,574.0 406.8,574.0 407.6,572.8 409.1,572.9 409.8,569.8 410.6,573.4 412.0,573.3 413.5,572.2 414.3,573.3 415.0,571.8 415.8,576.1 416.5,571.8 417.2,573.8 418.0,572.3 418.7,573.0 419.4,575.5 420.9,571.6 421.7,571.5 423.1,574.3 423.9,572.0 425.4,572.6 426.8,572.4 427.4,573.0" stroke="#92D050" stroke-width="1.6"/>
<polyline points="292.8,572.3 293.6,573.2 294.4,572.9 295.1,572.9 295.8,571.6 296.6,575.2 297.3,574.3 298.8,570.1 299.5,573.3 300.3,572.5 301.0,572.5 301.8,571.6 302.5,572.1 303.3,573.6 304.7,570.9 305.5,571.9 306.2,573.8 307.7,573.0 308.4,571.7 309.2,574.4 309.9,571.4 311.4,573.6 312.1,571.4 312.9,574.6 314.3,572.4 315.1,575.7 315.8,572.4 316.6,571.9 317.3,573.3 318.1,572.9 318.8,575.8 319.5,575.2 320.3,571.5 321.0,571.9 321.8,574.0 322.5,573.7 323.2,575.5 324.0,575.3 324.7,576.0 325.4,576.3 325.9,576.2 326.2,576.7 326.4,580.5 327.6,605.7 327.9,598.8 328.6,537.9 329.6,561.4 330.3,567.8 331.4,572.6 332.1,571.9 332.8,572.5 333.6,570.0 334.3,572.7 334.6,572.8 335.8,573.0 336.6,570.3 337.3,570.6 338.0,572.6 338.8,570.8 339.5,572.3 340.3,572.8 341.0,573.0 342.5,572.1 343.2,573.6 344.0,572.0 345.4,573.9 346.2,571.4 346.9,574.0 348.4,570.4 349.1,571.5 349.9,571.1 351.4,568.7 352.1,568.2 352.8,565.8 353.6,565.2 355.0,556.5 357.5,530.7 358.2,526.2 358.4,525.5 358.8,526.6 359.2,535.7 361.0,593.7 362.1,610.6 362.5,613.5 362.9,614.6 363.2,614.4 363.9,607.6 364.7,604.5 366.9,585.7 367.6,587.2 369.1,579.3 369.8,576.7 370.6,578.6 371.3,575.5 372.1,574.8 372.8,575.5 373.6,575.2 375.0,572.8 375.8,575.4 376.5,573.3 377.3,575.8 378.0,573.1 378.8,572.2 379.5,572.4 380.2,574.5 381.0,571.6 381.7,573.8 382.4,575.2 383.2,574.0 383.9,576.4 384.5,577.4 384.9,579.9 385.2,585.2 386.2,609.4 386.9,549.6 387.1,540.4 388.4,565.8 389.8,572.5 390.6,572.2 391.3,572.6 392.1,572.2 392.8,572.3 393.5,571.7 394.3,570.5 395.0,574.0 395.8,572.5 396.5,571.6 397.2,572.7 398.0,570.1 398.7,575.0 399.5,571.7 400.2,570.6 401.0,572.0 402.4,573.6 403.2,571.3 404.6,573.6 405.4,572.3 406.1,575.6 406.9,571.6 407.6,573.7 408.4,572.9 409.1,573.8 409.8,574.3 410.6,573.9 411.3,571.8 412.0,573.8 412.8,571.5 413.5,572.8 415.0,572.7 416.5,573.0 417.2,574.8 418.7,572.2 419.4,573.4 420.2,573.5 420.9,574.1 421.7,572.9 422.4,572.4 423.9,572.3 424.6,570.6 425.4,573.4 426.1,572.6 426.8,571.4 427.4,572.6" stroke="#00B0F0" stroke-width="1.6"/>
<polyline points="292.8,572.4 292.9,572.2 293.6,573.5 294.4,572.6 295.1,574.4 295.9,572.8 296.6,574.1 297.3,571.0 298.1,572.7 298.8,574.0 299.5,573.2 301.8,572.4 303.2,573.4 304.0,572.2 304.7,574.0 305.5,573.5 306.2,572.4 306.9,574.6 307.7,573.1 308.4,574.3 309.2,573.2 310.6,571.9 311.4,573.3 312.1,571.7 312.9,573.3 313.6,571.9 314.3,573.1 315.1,570.8 315.8,572.1 316.6,569.2 317.3,574.5 318.1,572.6 318.8,573.1 319.5,574.7 320.3,572.8 321.0,572.3 321.8,571.0 322.5,573.9 323.2,573.0 324.0,573.4 324.7,576.5 325.5,575.0 326.5,580.9 326.9,585.6 327.7,609.3 328.6,538.6 329.6,562.3 330.1,567.9 330.6,571.5 331.1,571.6 332.1,570.8 332.8,573.5 333.6,570.7 334.3,571.0 335.1,573.0 335.8,573.3 336.6,571.2 337.3,573.2 338.0,574.2 338.8,572.4 339.5,572.8 340.2,570.5 341.0,574.2 341.7,571.0 342.5,572.9 343.2,573.5 344.0,570.9 345.4,572.4 346.2,571.1 346.9,572.7 347.6,570.9 348.4,572.9 349.9,572.1 350.6,569.3 352.1,566.3 352.8,566.9 353.6,562.4 354.3,559.8 354.9,556.8 355.8,549.4 356.5,536.4 357.3,532.5 357.9,523.1 358.2,521.4 358.5,522.3 358.8,525.2 359.3,535.6 361.1,602.9 362.0,616.4 362.5,620.3 362.8,619.2 363.2,616.2 365.4,591.5 366.2,588.3 367.6,579.0 368.4,577.6 369.1,577.6 369.8,577.4 370.6,576.0 371.3,575.9 372.1,573.9 372.8,573.1 373.6,573.7 374.3,576.2 375.8,573.3 376.5,572.9 377.3,574.2 378.0,571.4 378.7,573.1 379.5,573.0 380.2,575.5 381.0,575.2 381.7,574.4 382.4,574.5 383.2,576.5 383.9,575.6 384.8,579.5 385.2,584.1 386.2,609.3 386.9,548.7 387.1,539.9 387.9,558.1 388.4,564.4 388.8,567.7 389.8,570.9 390.6,574.5 391.3,574.0 392.0,570.1 392.8,574.4 393.5,574.0 394.3,571.7 395.0,573.0 395.8,573.6 396.5,573.1 397.2,570.7 398.0,571.5 399.4,572.6 400.2,570.0 400.9,571.6 401.7,571.7 403.2,574.4 403.9,573.4 404.6,571.6 405.4,572.6 406.1,573.9 406.8,574.6 407.6,571.8 408.3,574.2 409.1,570.6 409.8,573.8 410.6,572.2 411.3,572.4 412.0,571.5 412.8,574.9 413.5,574.1 414.3,571.9 415.7,573.0 416.5,573.9 417.2,571.5 418.0,573.2 418.7,570.8 419.4,573.4 420.2,573.3 420.9,576.0 421.7,572.4 422.4,572.6 423.2,573.8 423.9,573.3 424.6,572.1 425.4,574.7 426.1,572.6 426.8,572.0 427.4,571.9" stroke="#002060" stroke-width="1.6"/>
</g>
<rect x="276" y="491.4" width="168.2" height="163.0" fill="none" stroke="#595959" stroke-width="1.25"/>
<line x1="276" y1="634.02" x2="278.8" y2="634.02" stroke="#595959" stroke-width="1.25"/>
<line x1="276" y1="613.65" x2="278.8" y2="613.65" stroke="#595959" stroke-width="1.25"/>
<line x1="276" y1="593.27" x2="278.8" y2="593.27" stroke="#595959" stroke-width="1.25"/>
<line x1="276" y1="572.90" x2="278.8" y2="572.90" stroke="#595959" stroke-width="1.25"/>
<line x1="276" y1="552.52" x2="278.8" y2="552.52" stroke="#595959" stroke-width="1.25"/>
<line x1="276" y1="532.15" x2="278.8" y2="532.15" stroke="#595959" stroke-width="1.25"/>
<line x1="276" y1="511.77" x2="278.8" y2="511.77" stroke="#595959" stroke-width="1.25"/>
<line x1="309.64" y1="654.4" x2="309.64" y2="651.4" stroke="#595959" stroke-width="1.25"/>
<line x1="343.28" y1="654.4" x2="343.28" y2="651.4" stroke="#595959" stroke-width="1.25"/>
<line x1="376.92" y1="654.4" x2="376.92" y2="651.4" stroke="#595959" stroke-width="1.25"/>
<line x1="410.56" y1="654.4" x2="410.56" y2="651.4" stroke="#595959" stroke-width="1.25"/>
<text x="269.60" y="658.00" font-size="11.2" text-anchor="end" >-6</text>
<text x="269.60" y="637.62" font-size="11.2" text-anchor="end" >-4.5</text>
<text x="269.60" y="617.25" font-size="11.2" text-anchor="end" >-3</text>
<text x="269.60" y="596.88" font-size="11.2" text-anchor="end" >-1.5</text>
<text x="269.60" y="576.50" font-size="11.2" text-anchor="end" >0</text>
<text x="269.60" y="556.12" font-size="11.2" text-anchor="end" >1.5</text>
<text x="269.60" y="535.75" font-size="11.2" text-anchor="end" >3</text>
<text x="269.60" y="515.38" font-size="11.2" text-anchor="end" >4.5</text>
<text x="269.60" y="495.00" font-size="11.2" text-anchor="end" >6</text>
<text x="276.00" y="671.60" font-size="11.2" text-anchor="middle" >310</text>
<text x="309.64" y="671.60" font-size="11.2" text-anchor="middle" >315</text>
<text x="343.28" y="671.60" font-size="11.2" text-anchor="middle" >320</text>
<text x="376.92" y="671.60" font-size="11.2" text-anchor="middle" >325</text>
<text x="410.56" y="671.60" font-size="11.2" text-anchor="middle" >330</text>
<text x="444.20" y="671.60" font-size="11.2" text-anchor="middle" >335</text>
<text x="275.59999999999997" y="487.3" font-size="11.2"><tspan font-size="13">×</tspan><tspan dx="1.0">10</tspan><tspan font-size="7.7" dy="-3.3">4</tspan></text>
<text transform="translate(239.5,570.9) rotate(-90)" font-size="11.5" text-anchor="middle">Intensity [count g<tspan font-size="7.6" dy="-4">-1</tspan><tspan dy="4"> sample]</tspan></text>
<text x="358.50" y="685.20" font-size="11.5" text-anchor="middle" >Field [mT]</text>
<text x="359.00" y="699.20" font-size="11.2" text-anchor="middle" >(c')</text>
<clipPath id="cd"><rect x="506.4" y="488.5" width="169.30000000000007" height="166.79999999999995"/></clipPath>
<g clip-path="url(#cd)" fill="none" stroke-linejoin="round" stroke-linecap="round">
<polyline points="523.3,571.1 523.4,571.3 524.1,569.9 524.9,571.5 525.6,569.2 526.4,570.8 527.1,570.1 527.9,572.5 529.3,569.0 530.1,571.7 530.8,571.9 531.6,571.6 532.3,571.0 533.1,570.2 533.8,572.3 534.6,568.9 535.3,572.8 536.1,573.2 536.8,571.2 537.6,570.5 538.3,570.2 539.0,570.3 539.8,571.2 541.3,568.5 542.0,571.9 542.8,573.3 543.5,568.7 544.3,570.9 545.0,570.4 545.8,571.2 547.2,570.9 548.0,570.9 548.7,571.7 549.5,573.8 550.2,572.9 551.0,572.5 551.7,570.4 552.4,572.8 553.2,571.1 554.3,571.2 555.4,571.9 556.9,571.7 557.9,582.3 558.3,588.2 559.4,622.8 559.7,607.7 560.1,533.5 560.4,522.0 561.1,549.7 561.6,560.1 562.2,566.3 563.6,571.4 564.4,568.9 565.1,570.6 565.9,570.5 566.6,569.2 567.3,571.5 568.1,572.4 568.8,572.0 569.6,572.6 570.3,572.4 571.1,571.3 571.8,571.0 572.6,571.0 573.3,570.4 574.0,571.8 574.8,572.7 575.5,572.9 576.3,571.5 577.0,571.9 578.5,568.1 579.3,572.7 580.0,570.4 580.8,571.4 581.5,572.0 582.2,572.2 583.0,571.7 583.7,572.6 584.5,571.3 585.2,571.3 586.0,572.2 586.7,570.4 587.5,571.9 588.2,571.1 589.0,571.1 589.7,570.4 590.4,570.8 591.2,574.6 591.9,570.2 592.7,576.0 593.4,570.3 594.2,572.2 595.7,569.4 596.0,570.0 596.4,572.5 596.8,573.5 597.2,572.7 597.9,570.4 598.6,575.7 599.4,573.8 600.1,573.5 600.9,573.7 601.6,575.9 603.1,572.0 603.9,573.0 604.6,570.6 605.4,571.5 606.1,571.7 606.8,571.5 607.6,572.8 608.3,572.6 609.1,571.8 609.8,573.1 610.6,571.1 611.3,572.8 612.0,571.4 613.5,572.7 614.3,573.0 615.8,576.5 616.6,582.2 617.1,594.9 618.0,628.0 618.2,613.3 618.7,535.7 619.0,523.7 619.7,550.1 620.1,560.4 620.8,566.5 621.6,569.6 622.5,571.6 623.2,570.8 624.0,573.1 624.7,571.8 625.5,573.6 626.2,574.0 626.9,570.7 627.7,572.7 628.4,572.8 629.2,571.7 629.9,572.9 630.7,572.5 631.4,573.4 632.2,572.7 632.9,574.0 633.7,571.7 634.4,573.3 635.1,575.7 635.9,572.8 636.6,574.7 637.4,570.1 638.1,572.5 638.9,570.7 639.6,574.6 640.4,572.2 641.1,571.7 641.8,572.4 642.6,572.2 643.3,572.6 644.1,574.3 644.8,571.4 645.6,575.1 646.3,573.0 647.0,572.1 647.8,573.6 648.5,571.0 649.3,575.2 650.0,573.2 650.8,573.4 651.5,575.0 652.3,573.7 653.0,570.2 653.8,573.0 654.5,573.9 655.2,573.3 656.0,570.5 656.7,573.5 657.5,574.1 658.2,573.6 658.8,573.7" stroke="#FF0000" stroke-width="1.6"/>
<polyline points="523.3,571.3 524.1,568.8 524.9,570.5 525.6,570.1 526.4,570.3 527.1,570.1 527.9,572.4 528.6,573.6 529.4,569.9 530.1,572.0 531.6,570.0 532.3,571.2 533.1,569.9 533.8,570.9 534.6,570.1 535.3,572.0 536.1,571.8 536.8,573.7 537.6,570.3 538.3,569.9 539.0,570.7 539.8,567.2 540.5,571.0 541.3,571.6 542.0,569.2 542.8,569.9 543.5,569.2 544.2,571.7 545.0,570.2 545.8,570.6 546.5,572.3 547.2,572.1 548.0,569.4 548.7,569.9 549.5,570.8 550.2,572.3 551.0,571.3 551.7,573.2 552.4,571.1 553.2,572.5 553.9,571.2 554.7,571.5 555.4,570.2 556.9,574.3 558.2,583.6 558.7,593.0 559.4,620.9 559.7,606.5 560.1,535.4 560.4,525.4 561.3,555.3 561.7,560.5 562.9,570.2 563.6,565.5 564.4,570.9 565.1,571.7 565.9,571.9 567.3,570.5 568.8,573.2 569.6,572.5 571.1,569.7 571.8,571.5 574.0,572.1 575.5,570.0 576.3,573.4 578.5,569.3 579.3,573.8 580.0,572.7 580.8,573.2 581.5,570.2 582.2,570.5 583.0,573.1 583.7,571.8 584.5,572.3 586.0,571.2 586.7,569.0 587.5,573.0 588.2,571.6 589.0,570.7 589.7,571.1 590.5,570.9 591.2,571.3 591.9,570.8 592.7,572.4 593.4,570.9 594.2,571.9 594.9,568.6 595.7,568.1 596.1,569.8 596.7,574.9 597.1,576.1 597.9,571.9 598.6,573.7 599.4,574.3 600.1,571.9 600.9,571.1 601.6,573.3 602.4,572.9 603.8,572.9 604.6,571.5 605.4,572.7 606.1,572.0 606.8,571.7 607.6,573.0 608.3,571.0 609.1,573.1 609.8,572.8 610.6,572.8 611.3,571.7 612.0,571.5 612.8,573.5 613.5,573.7 614.3,572.2 615.8,575.5 616.6,582.9 617.2,595.1 618.0,626.9 618.2,612.3 618.7,536.1 619.0,524.0 620.1,558.7 620.5,564.1 621.7,571.3 622.5,570.8 623.2,572.0 624.0,572.1 624.7,574.1 626.2,572.3 626.9,569.5 627.7,573.2 628.4,574.2 629.2,573.7 629.9,572.1 630.7,572.1 631.4,570.6 632.2,574.6 632.9,570.8 634.4,573.9 635.1,572.8 635.9,573.3 636.6,571.4 637.4,572.7 638.1,570.6 638.9,572.3 639.6,571.0 640.4,572.9 641.1,573.2 642.6,571.8 643.3,574.2 644.1,574.1 644.8,572.1 645.6,571.7 646.3,573.5 647.8,570.7 648.6,571.5 649.3,573.1 650.0,572.9 650.8,571.4 651.5,573.0 652.3,569.1 653.0,572.1 653.8,571.1 654.5,572.9 655.2,573.2 656.0,573.8 656.7,573.4 657.5,571.3 658.2,574.3 658.8,571.6" stroke="#FFC000" stroke-width="1.6"/>
<polyline points="523.3,570.6 524.9,570.5 525.6,570.9 526.4,571.0 527.1,570.2 527.9,568.5 528.6,568.4 529.4,570.6 530.1,570.1 530.8,569.1 531.6,570.6 532.4,569.7 533.8,571.4 534.6,570.3 535.3,571.4 536.1,572.1 537.6,570.7 538.3,574.0 539.0,568.6 539.8,570.7 540.5,570.9 541.3,572.8 542.0,570.0 542.8,573.4 544.2,570.0 545.8,571.9 546.5,571.4 547.2,570.0 548.0,569.9 548.7,572.5 549.5,571.5 550.2,570.0 551.0,569.5 551.7,572.6 552.4,571.3 553.2,570.7 553.9,574.3 554.7,574.5 555.4,573.0 556.2,576.1 556.9,574.3 557.7,576.8 558.1,583.6 558.7,596.0 559.4,619.8 559.7,608.3 560.1,541.3 560.4,525.5 561.1,551.6 561.7,561.8 562.3,565.6 563.6,568.2 564.4,570.7 565.1,571.1 565.9,570.5 567.3,572.8 568.1,569.8 568.8,570.2 569.6,571.2 570.3,571.4 571.1,569.6 572.5,571.4 573.3,571.3 574.1,572.0 574.8,571.3 576.3,568.9 577.0,571.3 577.8,568.3 578.5,572.3 579.3,573.7 580.0,572.7 580.8,570.4 581.5,571.7 582.2,570.6 583.0,572.0 583.7,570.6 584.5,572.3 585.2,572.3 586.0,569.0 586.7,570.2 587.5,570.5 588.2,572.7 589.0,572.3 589.7,571.5 590.5,571.9 591.9,570.2 592.7,570.6 593.4,572.5 594.2,573.3 595.7,569.0 596.4,573.7 596.6,573.8 596.9,573.5 597.1,572.3 597.4,572.5 597.9,572.6 598.6,572.0 599.4,572.1 600.1,571.1 600.9,572.1 601.6,572.6 602.3,571.0 603.1,570.5 603.9,573.0 604.6,573.1 605.3,571.9 606.1,573.9 606.8,570.4 607.6,571.9 608.3,570.1 609.1,571.4 609.8,572.3 610.6,572.2 611.3,573.2 612.0,572.0 612.8,573.0 614.3,569.8 615.9,576.7 616.8,584.9 617.3,595.4 618.0,623.9 618.2,610.5 618.7,537.7 619.0,526.0 619.8,553.5 620.4,564.1 620.8,566.7 621.3,568.9 622.5,571.1 623.2,571.1 624.0,573.4 624.7,572.8 625.5,571.7 626.2,572.7 626.9,572.9 627.7,573.6 628.4,570.0 629.2,574.1 629.9,572.4 630.7,573.0 631.4,573.0 632.1,571.2 632.9,573.7 633.7,571.4 634.4,573.1 635.1,574.0 635.9,572.8 636.6,572.1 637.4,572.2 638.1,573.7 638.9,571.9 639.6,572.7 640.4,573.9 641.1,573.7 641.8,572.1 642.6,572.8 644.1,572.5 644.8,573.9 645.6,572.4 646.3,575.5 647.0,573.3 647.8,573.9 649.3,572.1 650.0,574.7 650.8,571.9 651.5,572.3 652.3,573.9 653.0,570.8 653.8,573.0 654.5,572.5 655.2,572.5 656.0,573.3 656.7,572.3 657.5,576.0 658.2,571.7 658.8,573.4" stroke="#00B050" stroke-width="1.6"/>
<polyline points="523.3,567.6 524.1,571.2 524.9,570.9 525.6,571.0 526.4,569.1 527.1,568.4 527.9,571.4 528.6,571.9 529.4,569.1 531.6,571.2 532.3,571.6 533.1,569.9 533.8,572.1 534.6,572.3 535.3,572.7 536.1,570.3 536.8,573.0 537.6,572.2 538.3,569.6 539.0,570.9 539.8,570.4 540.5,572.0 541.3,569.7 542.0,572.7 542.8,570.3 543.5,569.2 544.3,571.6 545.0,571.3 545.7,570.3 546.5,568.8 548.0,572.2 548.7,573.0 549.5,570.0 550.2,573.0 551.0,569.4 551.7,571.4 552.4,570.2 553.2,571.8 553.9,572.4 554.7,572.3 555.4,574.4 556.2,574.0 556.9,572.9 558.0,580.7 558.4,586.0 559.4,619.4 559.7,605.8 560.1,536.9 560.4,526.4 561.2,553.8 561.7,563.9 562.3,567.9 562.7,568.6 563.6,569.0 564.4,571.5 565.1,569.7 566.6,572.3 567.3,572.8 568.1,571.7 568.8,572.7 569.6,569.1 570.3,572.3 571.1,572.9 571.8,570.9 572.5,571.2 573.3,571.0 574.0,571.9 574.8,569.6 575.5,572.8 576.3,573.5 577.8,571.0 578.5,572.5 580.0,571.8 580.8,571.0 581.5,570.9 582.2,572.5 583.7,571.0 585.2,570.3 586.0,573.0 586.7,570.1 587.5,571.0 588.2,570.4 589.0,571.3 589.7,571.4 590.5,572.4 591.2,572.8 591.9,572.1 592.7,572.9 593.4,570.3 594.9,571.5 595.8,570.4 596.1,571.1 596.8,574.5 597.1,575.0 597.9,573.8 598.6,571.0 599.4,572.9 600.1,572.0 600.9,571.8 601.6,572.6 602.4,570.9 603.1,571.9 603.8,573.5 604.6,573.6 605.3,572.1 606.1,571.4 606.8,572.0 607.6,569.7 608.3,572.3 609.8,571.6 610.6,571.5 611.3,573.3 612.0,573.7 612.8,574.6 613.5,574.0 614.3,572.3 615.0,573.1 616.2,578.6 616.8,584.9 618.0,621.1 618.7,539.9 619.0,528.5 619.7,553.6 620.2,562.9 621.0,569.4 621.6,571.3 622.5,572.8 623.2,572.9 624.0,570.1 624.7,572.9 625.5,571.9 626.2,572.5 627.7,574.5 628.4,576.7 629.2,573.2 629.9,570.9 630.7,574.2 631.4,571.5 632.1,570.8 632.9,574.8 633.6,575.6 634.4,571.5 635.1,573.8 635.9,570.2 636.6,572.1 637.4,573.3 638.1,575.9 638.9,574.0 639.6,572.9 641.1,574.7 641.8,574.7 642.6,572.1 643.3,574.0 644.1,571.2 644.8,572.6 645.6,573.5 646.3,573.2 647.1,571.0 647.8,572.5 648.6,574.7 649.3,574.7 650.0,570.6 650.8,574.3 651.5,572.5 652.3,573.9 653.0,573.8 653.8,573.2 654.5,574.0 655.2,574.2 656.0,572.0 656.7,571.9 657.5,573.6 658.2,573.2 658.8,571.8" stroke="#92D050" stroke-width="1.6"/>
<polyline points="523.3,570.2 523.4,570.0 524.9,570.4 525.6,572.9 526.4,572.3 527.1,573.8 527.9,571.8 528.6,571.6 529.4,570.4 530.1,570.5 530.8,572.9 531.6,573.2 532.4,569.7 533.1,569.8 533.8,571.8 535.3,570.3 536.1,573.1 536.8,573.1 537.6,571.4 538.3,571.1 539.0,571.5 539.8,570.6 540.5,570.4 541.3,569.9 542.8,571.9 543.5,571.2 544.3,569.4 545.0,569.7 545.7,570.5 546.5,569.7 547.2,572.9 548.0,569.6 548.7,569.7 549.5,569.4 550.2,570.3 551.0,571.9 551.7,571.8 552.4,569.8 553.9,573.6 554.7,571.2 555.4,571.6 556.2,573.3 557.3,576.6 557.9,579.3 558.2,582.2 558.6,590.5 559.4,618.5 559.6,609.5 560.1,541.3 560.4,526.1 561.2,554.7 562.0,566.9 562.3,567.8 562.6,568.0 562.9,567.7 563.6,569.0 564.4,568.5 565.9,572.1 566.6,572.1 567.3,571.4 568.1,571.2 568.8,570.0 570.3,572.4 571.1,572.7 571.8,568.9 572.5,571.5 573.3,570.1 574.1,573.2 574.8,571.8 575.6,572.0 576.3,570.3 577.0,569.2 577.8,574.2 578.5,570.3 579.3,571.8 580.8,570.6 582.2,572.7 583.0,573.0 583.7,568.8 584.5,571.8 585.2,572.2 586.0,569.8 586.7,572.7 587.5,570.6 588.2,569.9 588.9,569.7 590.5,574.7 591.2,572.8 591.9,572.9 592.7,570.6 593.4,573.2 594.2,573.8 594.9,569.5 595.7,570.0 595.9,569.8 596.1,570.1 596.8,574.0 597.1,574.9 597.9,573.4 598.6,571.2 599.4,572.2 600.1,572.7 600.9,570.9 601.6,572.3 603.1,572.7 603.9,571.0 604.6,572.8 605.3,572.3 606.1,573.9 606.8,571.1 607.6,574.4 608.3,571.3 609.1,571.6 609.8,574.3 610.6,573.7 611.3,572.0 612.8,573.5 613.5,573.4 614.3,574.6 615.5,575.7 616.1,576.9 616.4,578.4 616.8,583.9 618.0,623.0 618.2,610.0 618.7,539.2 619.0,527.1 619.8,554.3 620.7,566.2 621.0,568.8 621.3,568.9 621.7,568.6 622.5,571.8 623.2,571.6 624.0,574.8 624.7,571.8 625.5,572.7 626.9,571.9 627.7,573.3 628.4,574.1 629.2,573.9 629.9,572.2 630.7,573.8 631.4,573.8 632.1,573.6 632.9,572.2 633.6,571.7 634.4,573.6 635.1,572.0 635.9,573.7 636.6,572.5 637.4,572.0 638.9,575.5 639.6,572.9 640.4,573.9 641.1,573.0 641.8,573.0 642.6,573.7 643.3,572.5 644.1,571.8 644.8,572.5 645.6,571.0 646.3,575.9 647.1,574.4 647.8,574.3 648.6,572.4 649.3,572.3 650.8,574.0 651.5,574.5 653.0,572.6 653.8,572.3 654.5,574.5 655.2,572.2 656.0,573.7 656.7,573.9 657.5,571.9 658.2,574.4 658.8,574.5" stroke="#00B0F0" stroke-width="1.6"/>
<polyline points="523.3,570.7 523.4,570.6 524.1,571.2 524.9,572.2 525.6,570.5 526.4,569.8 527.1,571.0 527.9,569.5 528.6,570.5 529.3,569.8 530.1,568.6 530.8,568.6 531.6,569.5 532.3,570.8 533.1,570.9 533.8,572.9 534.6,570.2 535.3,571.6 536.1,571.5 536.8,568.8 537.6,572.8 538.3,571.2 539.0,573.6 539.8,570.2 540.5,573.3 543.5,569.4 544.2,569.2 545.0,570.3 545.8,570.4 546.5,571.4 547.2,571.4 548.0,570.9 548.7,571.3 549.5,572.8 550.2,571.9 551.0,572.4 551.7,569.3 553.2,573.2 553.9,572.8 554.7,573.6 555.4,572.0 556.2,573.6 557.5,575.1 558.0,578.3 558.7,589.1 559.4,613.9 559.7,601.7 560.1,539.2 560.4,529.9 561.1,553.7 561.7,563.4 562.3,567.3 562.7,568.3 563.6,569.8 564.4,572.7 565.1,570.5 565.9,572.1 566.6,570.1 567.3,571.8 568.1,569.2 570.3,572.6 571.8,571.6 573.3,572.5 574.1,570.7 574.8,572.5 575.6,570.2 576.3,571.8 577.0,572.2 577.8,573.7 578.5,571.3 579.3,572.2 580.8,570.4 581.5,571.3 582.2,569.5 583.0,572.1 585.2,569.1 586.0,572.1 586.7,570.6 587.5,573.8 588.2,573.1 588.9,573.0 589.7,570.5 591.2,573.3 591.9,572.6 592.7,573.2 593.4,570.1 594.2,573.2 594.9,570.8 595.4,570.7 595.8,570.8 596.0,571.0 596.4,573.3 596.6,573.4 596.9,573.2 597.1,572.0 597.6,572.4 598.6,572.6 600.1,567.9 600.9,571.1 602.4,573.1 604.6,571.2 605.3,572.0 606.1,571.9 606.8,572.5 607.6,571.7 608.3,570.4 609.8,573.3 610.6,573.5 612.0,573.4 612.8,570.9 613.5,570.2 614.3,573.7 615.0,573.6 615.8,575.1 616.9,585.1 617.3,592.1 618.0,622.1 618.2,609.0 618.7,541.5 619.0,530.9 619.8,556.6 620.5,567.1 621.0,570.2 621.3,570.7 621.7,571.0 622.5,572.2 623.2,572.7 624.0,575.9 624.7,572.5 625.5,574.0 626.2,571.9 626.9,574.7 627.7,573.1 628.4,573.0 629.2,571.7 629.9,572.8 630.7,572.1 631.4,573.3 632.2,575.6 632.9,573.3 633.7,574.6 635.1,572.9 635.9,574.8 636.6,571.8 637.4,571.6 638.1,573.4 638.9,573.4 639.6,571.5 640.4,573.3 641.1,572.2 642.6,573.2 643.3,574.8 644.1,574.4 644.8,573.2 645.6,573.2 646.3,572.8 647.0,573.7 647.8,570.9 648.5,572.8 649.3,571.6 650.0,574.9 650.8,573.1 651.5,573.7 652.3,571.0 653.0,571.0 654.5,573.9 655.2,573.6 656.0,572.3 656.7,573.9 657.5,573.8 658.2,575.7 658.8,576.0" stroke="#002060" stroke-width="1.6"/>
</g>
<rect x="506.4" y="488.5" width="169.30000000000007" height="166.79999999999995" fill="none" stroke="#595959" stroke-width="1.25"/>
<line x1="506.4" y1="634.45" x2="509.2" y2="634.45" stroke="#595959" stroke-width="1.25"/>
<line x1="506.4" y1="613.60" x2="509.2" y2="613.60" stroke="#595959" stroke-width="1.25"/>
<line x1="506.4" y1="592.75" x2="509.2" y2="592.75" stroke="#595959" stroke-width="1.25"/>
<line x1="506.4" y1="571.90" x2="509.2" y2="571.90" stroke="#595959" stroke-width="1.25"/>
<line x1="506.4" y1="551.05" x2="509.2" y2="551.05" stroke="#595959" stroke-width="1.25"/>
<line x1="506.4" y1="530.20" x2="509.2" y2="530.20" stroke="#595959" stroke-width="1.25"/>
<line x1="506.4" y1="509.35" x2="509.2" y2="509.35" stroke="#595959" stroke-width="1.25"/>
<line x1="540.26" y1="655.3" x2="540.26" y2="652.3" stroke="#595959" stroke-width="1.25"/>
<line x1="574.12" y1="655.3" x2="574.12" y2="652.3" stroke="#595959" stroke-width="1.25"/>
<line x1="607.98" y1="655.3" x2="607.98" y2="652.3" stroke="#595959" stroke-width="1.25"/>
<line x1="641.84" y1="655.3" x2="641.84" y2="652.3" stroke="#595959" stroke-width="1.25"/>
<text x="497.90" y="658.90" font-size="11.2" text-anchor="end" >-4</text>
<text x="497.90" y="638.05" font-size="11.2" text-anchor="end" >-3</text>
<text x="497.90" y="617.20" font-size="11.2" text-anchor="end" >-2</text>
<text x="497.90" y="596.35" font-size="11.2" text-anchor="end" >-1</text>
<text x="497.90" y="575.50" font-size="11.2" text-anchor="end" >0</text>
<text x="497.90" y="554.65" font-size="11.2" text-anchor="end" >1</text>
<text x="497.90" y="533.80" font-size="11.2" text-anchor="end" >2</text>
<text x="497.90" y="512.95" font-size="11.2" text-anchor="end" >3</text>
<text x="497.90" y="492.10" font-size="11.2" text-anchor="end" >4</text>
<text x="506.40" y="672.50" font-size="11.2" text-anchor="middle" >310</text>
<text x="540.26" y="672.50" font-size="11.2" text-anchor="middle" >315</text>
<text x="574.12" y="672.50" font-size="11.2" text-anchor="middle" >320</text>
<text x="607.98" y="672.50" font-size="11.2" text-anchor="middle" >325</text>
<text x="641.84" y="672.50" font-size="11.2" text-anchor="middle" >330</text>
<text x="675.70" y="672.50" font-size="11.2" text-anchor="middle" >335</text>
<text x="506.9" y="483.4" font-size="11.2"><tspan font-size="13">×</tspan><tspan dx="1.0">10</tspan><tspan font-size="7.7" dy="-3.3">4</tspan></text>
<text transform="translate(477,571.9) rotate(-90)" font-size="11.5" text-anchor="middle">Intensity [count g<tspan font-size="7.6" dy="-4">-1</tspan><tspan dy="4"> sample]</tspan></text>
<text x="588.45" y="687.40" font-size="11.5" text-anchor="middle" >Field [mT]</text>
<text x="590.00" y="701.30" font-size="11.2" text-anchor="middle" >(d)</text>
<polygon points="560.60,509.40 561.22,510.95 562.88,511.06 561.60,512.12 562.01,513.74 560.60,512.85 559.19,513.74 559.60,512.12 558.32,511.06 559.98,510.95" fill="#111"/>
<polygon points="617.70,510.40 618.32,511.95 619.98,512.06 618.70,513.12 619.11,514.74 617.70,513.85 616.29,514.74 616.70,513.12 615.42,512.06 617.08,511.95" fill="#111"/>
<polygon points="261.20,39.40 261.82,40.95 263.48,41.06 262.20,42.12 262.61,43.74 261.20,42.85 259.79,43.74 260.20,42.12 258.92,41.06 260.58,40.95" fill="#111"/>
<text x="268.00" y="44.80" font-size="9.1" text-anchor="start" >MnO marker</text>
<rect x="155.9" y="766.8" width="168.70000000000002" height="160.30000000000007" fill="none" stroke="#595959" stroke-width="1.25"/>
<line x1="155.9" y1="907.06" x2="158.70000000000002" y2="907.06" stroke="#595959" stroke-width="1.25"/>
<line x1="155.9" y1="887.03" x2="158.70000000000002" y2="887.03" stroke="#595959" stroke-width="1.25"/>
<line x1="155.9" y1="866.99" x2="158.70000000000002" y2="866.99" stroke="#595959" stroke-width="1.25"/>
<line x1="155.9" y1="846.95" x2="158.70000000000002" y2="846.95" stroke="#595959" stroke-width="1.25"/>
<line x1="155.9" y1="826.91" x2="158.70000000000002" y2="826.91" stroke="#595959" stroke-width="1.25"/>
<line x1="155.9" y1="806.88" x2="158.70000000000002" y2="806.88" stroke="#595959" stroke-width="1.25"/>
<line x1="155.9" y1="786.84" x2="158.70000000000002" y2="786.84" stroke="#595959" stroke-width="1.25"/>
<line x1="189.64" y1="927.1" x2="189.64" y2="924.1" stroke="#595959" stroke-width="1.25"/>
<line x1="223.38" y1="927.1" x2="223.38" y2="924.1" stroke="#595959" stroke-width="1.25"/>
<line x1="257.12" y1="927.1" x2="257.12" y2="924.1" stroke="#595959" stroke-width="1.25"/>
<line x1="290.86" y1="927.1" x2="290.86" y2="924.1" stroke="#595959" stroke-width="1.25"/>
<text x="145.90" y="930.70" font-size="11.2" text-anchor="end" >2.0028</text>
<text x="145.90" y="910.66" font-size="11.2" text-anchor="end" >2.003</text>
<text x="145.90" y="890.63" font-size="11.2" text-anchor="end" >2.0032</text>
<text x="145.90" y="870.59" font-size="11.2" text-anchor="end" >2.0034</text>
<text x="145.90" y="850.55" font-size="11.2" text-anchor="end" >2.0036</text>
<text x="145.90" y="830.51" font-size="11.2" text-anchor="end" >2.0038</text>
<text x="145.90" y="810.48" font-size="11.2" text-anchor="end" >2.004</text>
<text x="145.90" y="790.44" font-size="11.2" text-anchor="end" >2.0042</text>
<text x="145.90" y="770.40" font-size="11.2" text-anchor="end" >2.0044</text>
<text x="155.90" y="944.70" font-size="11.2" text-anchor="middle" >100</text>
<text x="189.64" y="944.70" font-size="11.2" text-anchor="middle" >150</text>
<text x="223.38" y="944.70" font-size="11.2" text-anchor="middle" >200</text>
<text x="257.12" y="944.70" font-size="11.2" text-anchor="middle" >250</text>
<text x="290.86" y="944.70" font-size="11.2" text-anchor="middle" >300</text>
<text x="324.60" y="944.70" font-size="11.2" text-anchor="middle" >350</text>
<text transform="translate(107,847.2) rotate(-90)" font-size="11.5" text-anchor="middle">g-value</text>
<text x="240.70" y="961.30" font-size="11.5" text-anchor="middle" >Temperature [ºC]</text>
<text x="238.10" y="982.60" font-size="11.2" text-anchor="middle" >(e)</text>
<circle cx="155.90" cy="786.84" r="4" fill="#00B050" stroke="none" stroke-width="1.1"/>
<circle cx="189.64" cy="786.84" r="4" fill="#00B050" stroke="none" stroke-width="1.1"/>
<circle cx="290.86" cy="877.01" r="4" fill="#00B050" stroke="none" stroke-width="1.1"/>
<rect x="152.10" y="773.02" width="7.6" height="7.6" fill="#FFC000" stroke="none" stroke-width="1.1"/>
<rect x="185.84" y="773.02" width="7.6" height="7.6" fill="#FFC000" stroke="none" stroke-width="1.1"/>
<rect x="219.58" y="803.08" width="7.6" height="7.6" fill="#FFC000" stroke="none" stroke-width="1.1"/>
<rect x="253.32" y="823.11" width="7.6" height="7.6" fill="#FFC000" stroke="none" stroke-width="1.1"/>
<rect x="287.06" y="863.19" width="7.6" height="7.6" fill="#FFC000" stroke="none" stroke-width="1.1"/>
<rect x="320.80" y="913.28" width="7.6" height="7.6" fill="#FFC000" stroke="none" stroke-width="1.1"/>
<path d="M151.40 776.82L155.90 772.52L160.40 776.82L155.90 781.12Z" fill="#FF0000"/>
<path d="M185.14 776.82L189.64 772.52L194.14 776.82L189.64 781.12Z" fill="#FF0000"/>
<path d="M218.88 796.86L223.38 792.56L227.88 796.86L223.38 801.16Z" fill="#FF0000"/>
<path d="M252.62 826.91L257.12 822.61L261.62 826.91L257.12 831.21Z" fill="#FF0000"/>
<path d="M286.36 866.99L290.86 862.69L295.36 866.99L290.86 871.29Z" fill="#FF0000"/>
<path d="M320.10 917.08L324.60 912.78L329.10 917.08L324.60 921.38Z" fill="#FF0000"/>
<path d="M155.90 745.20L159.90 741.00L163.90 745.20L159.90 749.40Z" fill="#FF0000"/>
<text x="166.60" y="749.20" font-size="11.3" text-anchor="start" >BW100%</text>
<rect x="216.70" y="741.60" width="7.2" height="7.2" fill="#FFC000" stroke="none" stroke-width="1.1"/>
<text x="226.80" y="749.20" font-size="11.3" text-anchor="start" >BW60%</text>
<circle cx="276.40" cy="745.20" r="3.9" fill="#00B050" stroke="none" stroke-width="1.1"/>
<text x="282.80" y="749.20" font-size="11.3" text-anchor="start" >BW40%</text>
<rect x="410.9" y="767.2" width="173.80000000000007" height="161.5999999999999" fill="none" stroke="#595959" stroke-width="1.25"/>
<line x1="410.9" y1="874.93" x2="413.7" y2="874.93" stroke="#595959" stroke-width="1.25"/>
<line x1="410.9" y1="821.07" x2="413.7" y2="821.07" stroke="#595959" stroke-width="1.25"/>
<line x1="445.66" y1="928.8" x2="445.66" y2="925.8" stroke="#595959" stroke-width="1.25"/>
<line x1="480.42" y1="928.8" x2="480.42" y2="925.8" stroke="#595959" stroke-width="1.25"/>
<line x1="515.18" y1="928.8" x2="515.18" y2="925.8" stroke="#595959" stroke-width="1.25"/>
<line x1="549.94" y1="928.8" x2="549.94" y2="925.8" stroke="#595959" stroke-width="1.25"/>
<text x="403.00" y="935.30" font-size="11.2" text-anchor="end" >1</text>
<text x="403.00" y="879.93" font-size="11.2" text-anchor="end" >10</text>
<text x="403.00" y="826.07" font-size="11.2" text-anchor="end" >100</text>
<text x="403.00" y="772.20" font-size="11.2" text-anchor="end" >1000</text>
<text x="410.90" y="945.90" font-size="11.2" text-anchor="middle" >100</text>
<text x="445.66" y="945.90" font-size="11.2" text-anchor="middle" >150</text>
<text x="480.42" y="945.90" font-size="11.2" text-anchor="middle" >200</text>
<text x="515.18" y="945.90" font-size="11.2" text-anchor="middle" >250</text>
<text x="549.94" y="945.90" font-size="11.2" text-anchor="middle" >300</text>
<text x="584.70" y="945.90" font-size="11.2" text-anchor="middle" >350</text>
<text transform="translate(374.8,851.3) rotate(-90)" font-size="11.5" text-anchor="middle">[spins <tspan font-size="13">×</tspan> 10<tspan font-size="7.8" dy="-4">15</tspan><tspan dy="4"> g</tspan><tspan font-size="7.8" dy="-4">-1</tspan><tspan dy="4">]</tspan></text>
<text x="497.70" y="962.80" font-size="11.5" text-anchor="middle" >Temperature [ºC]</text>
<text x="497.90" y="982.60" font-size="11.2" text-anchor="middle" >(f)</text>
<path d="M406.60 873.50L410.90 869.30L415.20 873.50L410.90 877.70Z" fill="#FF0000"/>
<path d="M441.36 859.90L445.66 855.70L449.96 859.90L445.66 864.10Z" fill="#FF0000"/>
<path d="M476.12 859.50L480.42 855.30L484.72 859.50L480.42 863.70Z" fill="#FF0000"/>
<path d="M510.88 845.60L515.18 841.40L519.48 845.60L515.18 849.80Z" fill="#FF0000"/>
<path d="M545.64 808.20L549.94 804.00L554.24 808.20L549.94 812.40Z" fill="#FF0000"/>
<path d="M580.40 768.30L584.70 764.10L589.00 768.30L584.70 772.50Z" fill="#FF0000"/>
<rect x="407.20" y="867.40" width="7.4" height="7.4" fill="#FFC000" stroke="none" stroke-width="1.1"/>
<rect x="441.96" y="868.20" width="7.4" height="7.4" fill="#FFC000" stroke="none" stroke-width="1.1"/>
<rect x="476.72" y="863.50" width="7.4" height="7.4" fill="#FFC000" stroke="none" stroke-width="1.1"/>
<rect x="511.48" y="856.30" width="7.4" height="7.4" fill="#FFC000" stroke="none" stroke-width="1.1"/>
<rect x="546.24" y="816.70" width="7.4" height="7.4" fill="#FFC000" stroke="none" stroke-width="1.1"/>
<rect x="581.00" y="774.20" width="7.4" height="7.4" fill="#FFC000" stroke="none" stroke-width="1.1"/>
<circle cx="410.90" cy="883.00" r="4.0" fill="#00B050" stroke="none" stroke-width="1.1"/>
<circle cx="445.66" cy="878.00" r="4.0" fill="#00B050" stroke="none" stroke-width="1.1"/>
<circle cx="480.42" cy="872.50" r="4.0" fill="#00B050" stroke="none" stroke-width="1.1"/>
<circle cx="515.18" cy="870.60" r="4.0" fill="#00B050" stroke="none" stroke-width="1.1"/>
<circle cx="549.94" cy="835.00" r="4.0" fill="#00B050" stroke="none" stroke-width="1.1"/>
<circle cx="584.70" cy="786.60" r="4.0" fill="#00B050" stroke="none" stroke-width="1.1"/>
<rect x="407.40" y="882.00" width="7.0" height="7.0" fill="none" stroke="#000" stroke-width="1.1"/>
<rect x="442.16" y="868.40" width="7.0" height="7.0" fill="none" stroke="#000" stroke-width="1.1"/>
<rect x="476.92" y="867.80" width="7.0" height="7.0" fill="none" stroke="#000" stroke-width="1.1"/>
<rect x="511.68" y="854.00" width="7.0" height="7.0" fill="none" stroke="#000" stroke-width="1.1"/>
<rect x="546.44" y="816.90" width="7.0" height="7.0" fill="none" stroke="#000" stroke-width="1.1"/>
<rect x="581.20" y="776.80" width="7.0" height="7.0" fill="none" stroke="#000" stroke-width="1.1"/>
<circle cx="410.90" cy="894.80" r="3.5" fill="#fff" stroke="#000" stroke-width="1.1"/>
<circle cx="445.66" cy="881.60" r="3.5" fill="#fff" stroke="#000" stroke-width="1.1"/>
<circle cx="480.42" cy="881.00" r="3.5" fill="#fff" stroke="#000" stroke-width="1.1"/>
<circle cx="515.18" cy="866.80" r="3.5" fill="#fff" stroke="#000" stroke-width="1.1"/>
<circle cx="549.94" cy="829.70" r="3.5" fill="#fff" stroke="#000" stroke-width="1.1"/>
<circle cx="584.70" cy="789.90" r="3.5" fill="#fff" stroke="#000" stroke-width="1.1"/>
<path d="M387.40 726.70L391.40 722.50L395.40 726.70L391.40 730.90Z" fill="#FF0000"/>
<text x="398.40" y="730.80" font-size="11.3" text-anchor="start" >BW100%</text>
<rect x="448.50" y="723.30" width="7.2" height="7.2" fill="#FFC000" stroke="none" stroke-width="1.1"/>
<text x="457.60" y="730.80" font-size="11.3" text-anchor="start" >BW60%</text>
<circle cx="507.90" cy="726.90" r="3.9" fill="#00B050" stroke="none" stroke-width="1.1"/>
<text x="514.00" y="730.80" font-size="11.3" text-anchor="start" >BW40%</text>
<rect x="387.70" y="740.50" width="7.0" height="7.0" fill="none" stroke="#000" stroke-width="1.1"/>
<text x="398.40" y="747.80" font-size="11.3" text-anchor="start" >BW60% (expected)</text>
<circle cx="505.10" cy="744.00" r="3.5" fill="#fff" stroke="#000" stroke-width="1.1"/>
<text x="512.20" y="747.80" font-size="11.3" text-anchor="start" >BW40% (expected)</text>
</svg></body></html>
